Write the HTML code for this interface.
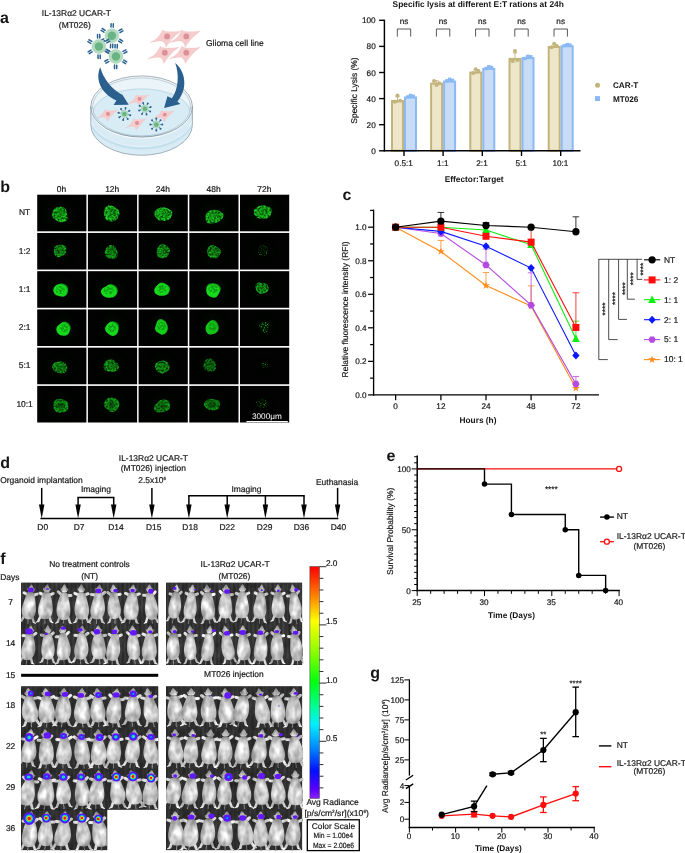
<!DOCTYPE html>
<html lang="en"><head><meta charset="utf-8"><title>Figure</title>
<style>html,body{margin:0;padding:0;background:#fff;overflow:hidden}svg{display:block}</style>
</head><body>
<svg width="685" height="853" viewBox="0 0 685 853" font-family="'Liberation Sans', Arial, sans-serif" text-rendering="geometricPrecision">
<defs><radialGradient id="gb" cx="45%" cy="55%" r="55%"><stop offset="0" stop-color="#19e020"/><stop offset="0.8" stop-color="#15d81c"/><stop offset="1" stop-color="#0b8a10"/></radialGradient><radialGradient id="gs" cx="50%" cy="50%" r="55%" fx="58%" fy="42%"><stop offset="0" stop-color="#0e8a13"/><stop offset="0.5" stop-color="#15b81b"/><stop offset="0.85" stop-color="#26ee2d"/><stop offset="1" stop-color="#18c01e"/></radialGradient><radialGradient id="gr" cx="50%" cy="50%" r="55%"><stop offset="0" stop-color="#0a6a0d"/><stop offset="0.45" stop-color="#0f9a14"/><stop offset="0.8" stop-color="#17d01d"/><stop offset="1" stop-color="#0a7a0e"/></radialGradient><filter id="fsp" x="-30%" y="-30%" width="160%" height="160%" color-interpolation-filters="sRGB"><feTurbulence type="fractalNoise" baseFrequency="0.5" numOctaves="3" seed="7" result="n"/><feColorMatrix in="n" type="matrix" values="0 0 0 0 0  0 0 0 0 0  0 0 0 0 0  3.6 0 0 0 -1.2" result="a"/><feComposite in="SourceGraphic" in2="a" operator="in" result="c"/><feGaussianBlur in="c" stdDeviation="0.4"/></filter><filter id="fsp2" x="-30%" y="-30%" width="160%" height="160%" color-interpolation-filters="sRGB"><feTurbulence type="fractalNoise" baseFrequency="0.9" numOctaves="1" seed="23" result="n"/><feColorMatrix in="n" type="matrix" values="0 0 0 0 0  0 0 0 0 0  0 0 0 0 0  0 3.4 0 0 -1.2" result="a"/><feComposite in="SourceGraphic" in2="a" operator="in" result="c"/><feGaussianBlur in="c" stdDeviation="0.5"/></filter><filter id="fdim" x="-30%" y="-30%" width="160%" height="160%" color-interpolation-filters="sRGB"><feTurbulence type="fractalNoise" baseFrequency="1.1" numOctaves="1" seed="11" result="n"/><feColorMatrix in="n" type="matrix" values="0 0 0 0 0  0 0 0 0 0  0 0 0 0 0  5 0 0 0 -2.7" result="a"/><feComposite in="SourceGraphic" in2="a" operator="in" result="c"/><feGaussianBlur in="c" stdDeviation="0.35"/></filter><radialGradient id="grb" cx="50%" cy="50%" r="55%"><stop offset="0" stop-color="#063a08"/><stop offset="0.5" stop-color="#0a6a0e"/><stop offset="0.85" stop-color="#0e8a13"/><stop offset="1" stop-color="#0a5a0d"/></radialGradient><filter id="fbl" x="-30%" y="-30%" width="160%" height="160%"><feGaussianBlur stdDeviation="0.6"/></filter><filter id="fhalo" x="-50%" y="-50%" width="200%" height="200%"><feGaussianBlur stdDeviation="3"/></filter><radialGradient id="mb" cx="50%" cy="58%" r="62%" fx="46%" fy="52%"><stop offset="0" stop-color="#f8f8f8"/><stop offset="0.45" stop-color="#dcdcdc"/><stop offset="0.8" stop-color="#b4b4b4"/><stop offset="1" stop-color="#808080"/></radialGradient><linearGradient id="mhd" x1="0" y1="0" x2="0" y2="1"><stop offset="0" stop-color="#8e8e8e"/><stop offset="0.5" stop-color="#c0c0c0"/><stop offset="1" stop-color="#dedede"/></linearGradient><symbol id="ms0" overflow="visible"><path d="M8.55,35 C8.7,37.5 9.4,39.5 9.0,41.5" fill="none" stroke="#a8a8a8" stroke-width="0.8"/><path d="M4.2,34 L2.4,38.6 M12.9,34 L14.7,38.6" fill="none" stroke="#cecece" stroke-width="2.4" stroke-linecap="round"/><path d="M2.4,38.8 L0.4,39.9 M14.7,38.8 L16.7,39.9" fill="none" stroke="#f0f0f0" stroke-width="1.2" stroke-linecap="round"/><path d="M8.55,1.0 C9.9,2.4 11.3,5 11.5,7.6 C11.6,9.6 5.5,9.6 5.6,7.6 C5.8,5 7.2,2.4 8.55,1.0 Z" fill="url(#mhd)"/><circle cx="5.9" cy="6.3" r="1.15" fill="#a6a6a6"/><circle cx="11.2" cy="6.3" r="1.15" fill="#a6a6a6"/><path d="M6.2,12.2 L2.0,10.4 M10.9,12.2 L15.1,10.4" fill="none" stroke="#e2e2e2" stroke-width="3.0" stroke-linecap="round"/><path d="M4.9,10.2 C4.0,13.5 2.6,18 1.6,24 C0.7,30 2.5,35.4 6,36.2 C7.5,36.5 9.6,36.5 11.1,36.2 C14.6,35.4 16.4,30 15.5,24 C14.5,18 13.1,13.5 12.2,10.2 C10.7,8.3 6.4,8.3 4.9,10.2 Z" fill="url(#mb)"/></symbol><symbol id="ms1" overflow="visible"><path d="M8.55,35 C8.7,37.5 9.4,39.5 9.0,41.5" fill="none" stroke="#a8a8a8" stroke-width="0.8"/><path d="M4.2,34 L2.4,38.6 M12.9,34 L14.7,38.6" fill="none" stroke="#cecece" stroke-width="2.4" stroke-linecap="round"/><path d="M2.4,38.8 L0.4,39.9 M14.7,38.8 L16.7,39.9" fill="none" stroke="#f0f0f0" stroke-width="1.2" stroke-linecap="round"/><path d="M8.55,1.0 C9.9,2.4 11.3,5 11.5,7.6 C11.6,9.6 5.5,9.6 5.6,7.6 C5.8,5 7.2,2.4 8.55,1.0 Z" fill="url(#mhd)"/><circle cx="5.9" cy="6.3" r="1.15" fill="#a6a6a6"/><circle cx="11.2" cy="6.3" r="1.15" fill="#a6a6a6"/><path d="M6.2,12.0 L2.6,8.6 M10.9,12.4 L15.3,11.6" fill="none" stroke="#e2e2e2" stroke-width="3.0" stroke-linecap="round"/><path d="M4.9,10.2 C3.6,13.5 2.0,17 1.4,23 C0.8,30 3.0,35.6 6.4,36.3 C8,36.6 9.8,36.5 11.3,36.1 C14.4,35.2 15.8,30 15.2,24.5 C14.6,19 13.6,14 12.2,10.2 C10.7,8.3 6.4,8.3 4.9,10.2 Z" fill="url(#mb)"/></symbol><symbol id="ms2" overflow="visible"><path d="M8.55,35 C8.7,37.5 9.4,39.5 9.0,41.5" fill="none" stroke="#a8a8a8" stroke-width="0.8"/><path d="M4.2,34 L2.4,38.6 M12.9,34 L14.7,38.6" fill="none" stroke="#cecece" stroke-width="2.4" stroke-linecap="round"/><path d="M2.4,38.8 L0.4,39.9 M14.7,38.8 L16.7,39.9" fill="none" stroke="#f0f0f0" stroke-width="1.2" stroke-linecap="round"/><path d="M8.55,1.0 C9.9,2.4 11.3,5 11.5,7.6 C11.6,9.6 5.5,9.6 5.6,7.6 C5.8,5 7.2,2.4 8.55,1.0 Z" fill="url(#mhd)"/><circle cx="5.9" cy="6.3" r="1.15" fill="#a6a6a6"/><circle cx="11.2" cy="6.3" r="1.15" fill="#a6a6a6"/><path d="M6.2,12.4 L1.8,12.0 M10.9,12.0 L14.6,8.8" fill="none" stroke="#e2e2e2" stroke-width="3.0" stroke-linecap="round"/><path d="M5.1,10.2 C4.4,13.5 3.4,18 2.4,23.5 C1.4,29.5 2.8,35.2 6.2,36.2 C7.7,36.5 9.6,36.5 11.0,36.2 C14.8,35.2 16.8,29.5 15.9,23.5 C15.0,18 13.0,13.5 12.0,10.2 C10.5,8.3 6.6,8.3 5.1,10.2 Z" fill="url(#mb)"/></symbol><pattern id="bgs" width="4.28" height="8" patternUnits="userSpaceOnUse"><rect width="4.28" height="8" fill="#323232"/><rect x="0.3" width="1.0" height="8" fill="#434343"/><rect x="2.5" width="0.5" height="8" fill="#2a2a2a"/></pattern><pattern id="bgd" width="4.3" height="8" patternUnits="userSpaceOnUse"><rect width="4.3" height="8" fill="#2e2e2e"/><rect x="0.6" width="0.7" height="8" fill="#3e3e3e"/></pattern><radialGradient id="h1"><stop offset="0" stop-color="#20d8ff"/><stop offset="0.2" stop-color="#1a78ff"/><stop offset="0.45" stop-color="#3a22ff"/><stop offset="0.7" stop-color="#6216ff"/><stop offset="1" stop-color="#6a18f8"/></radialGradient><radialGradient id="h2"><stop offset="0" stop-color="#b8f020"/><stop offset="0.14" stop-color="#20e060"/><stop offset="0.3" stop-color="#20c8ff"/><stop offset="0.5" stop-color="#1a40ff"/><stop offset="0.72" stop-color="#5a14ff"/><stop offset="1" stop-color="#6a18f8"/></radialGradient><radialGradient id="h3"><stop offset="0" stop-color="#ff1010"/><stop offset="0.24" stop-color="#ff2010"/><stop offset="0.34" stop-color="#ffd010"/><stop offset="0.44" stop-color="#30e040"/><stop offset="0.55" stop-color="#20c0ff"/><stop offset="0.7" stop-color="#1a30ff"/><stop offset="0.86" stop-color="#5e14ff"/><stop offset="1" stop-color="#6a18f8"/></radialGradient><linearGradient id="cbar" x1="0" y1="0" x2="0" y2="1"><stop offset="0" stop-color="#ff0000"/><stop offset="0.12" stop-color="#ff7a00"/><stop offset="0.235" stop-color="#ffff00"/><stop offset="0.38" stop-color="#80ff00"/><stop offset="0.5" stop-color="#00ff10"/><stop offset="0.6" stop-color="#00ff90"/><stop offset="0.68" stop-color="#00f0ff"/><stop offset="0.79" stop-color="#0080ff"/><stop offset="0.88" stop-color="#0010ff"/><stop offset="0.96" stop-color="#5a00ff"/><stop offset="1" stop-color="#8a20ff"/></linearGradient><filter id="fm" x="-2%" y="-2%" width="104%" height="104%" color-interpolation-filters="sRGB"><feGaussianBlur stdDeviation="0.45" result="b"/><feTurbulence type="fractalNoise" baseFrequency="0.16 0.1" numOctaves="2" seed="4" result="n"/><feColorMatrix in="n" type="matrix" values="1 0 0 0 0  1 0 0 0 0  1 0 0 0 0  0 0 0 0 1" result="g"/><feComposite in="b" in2="g" operator="arithmetic" k1="0.7" k2="0.6" k3="0" k4="0"/></filter></defs>
<rect width="685" height="853" fill="#fff"/>
<g id="panel-a">
<text x="0.0" y="23.2" font-size="16.0" font-weight="bold" fill="#151515">a</text>
<text x="76.4" y="15.8" font-size="8.45" text-anchor="middle" fill="#151515" stroke="#151515" stroke-width="0.18">IL-13Rα2 UCAR-T</text>
<text x="74.8" y="27.6" font-size="8.45" text-anchor="middle" fill="#151515" stroke="#151515" stroke-width="0.18">(MT026)</text>
<text x="206" y="45.8" font-size="8.5" fill="#151515" stroke="#151515" stroke-width="0.18">Glioma cell line</text>
<line x1="119.81" y1="39.26" x2="122.71" y2="41.03" stroke="#2b6291" stroke-width="1.5" stroke-linecap="round"/><line x1="118.66" y1="41.13" x2="121.56" y2="42.91" stroke="#2b6291" stroke-width="1.5" stroke-linecap="round"/><line x1="112.77" y1="44.33" x2="112.68" y2="47.72" stroke="#2b6291" stroke-width="1.5" stroke-linecap="round"/><line x1="110.57" y1="44.27" x2="110.48" y2="47.67" stroke="#2b6291" stroke-width="1.5" stroke-linecap="round"/><line x1="104.87" y1="40.77" x2="101.88" y2="42.39" stroke="#2b6291" stroke-width="1.5" stroke-linecap="round"/><line x1="103.82" y1="38.84" x2="100.83" y2="40.46" stroke="#2b6291" stroke-width="1.5" stroke-linecap="round"/><line x1="103.99" y1="32.14" x2="101.09" y2="30.37" stroke="#2b6291" stroke-width="1.5" stroke-linecap="round"/><line x1="105.14" y1="30.27" x2="102.24" y2="28.49" stroke="#2b6291" stroke-width="1.5" stroke-linecap="round"/><line x1="111.03" y1="27.07" x2="111.12" y2="23.68" stroke="#2b6291" stroke-width="1.5" stroke-linecap="round"/><line x1="113.23" y1="27.13" x2="113.32" y2="23.73" stroke="#2b6291" stroke-width="1.5" stroke-linecap="round"/><line x1="118.93" y1="30.63" x2="121.92" y2="29.01" stroke="#2b6291" stroke-width="1.5" stroke-linecap="round"/><line x1="119.98" y1="32.56" x2="122.97" y2="30.94" stroke="#2b6291" stroke-width="1.5" stroke-linecap="round"/><circle cx="111.9" cy="35.7" r="7.0" fill="#b4dbbf" stroke="#9fd0ae" stroke-width="0.4"/><circle cx="111.9" cy="35.7" r="4.2" fill="#69b385"/>
<line x1="106.97" y1="49.66" x2="109.96" y2="51.29" stroke="#2b6291" stroke-width="1.5" stroke-linecap="round"/><line x1="105.92" y1="51.59" x2="108.90" y2="53.22" stroke="#2b6291" stroke-width="1.5" stroke-linecap="round"/><line x1="100.20" y1="55.07" x2="100.28" y2="58.47" stroke="#2b6291" stroke-width="1.5" stroke-linecap="round"/><line x1="98.00" y1="55.12" x2="98.08" y2="58.52" stroke="#2b6291" stroke-width="1.5" stroke-linecap="round"/><line x1="92.13" y1="51.91" x2="89.22" y2="53.68" stroke="#2b6291" stroke-width="1.5" stroke-linecap="round"/><line x1="90.98" y1="50.04" x2="88.08" y2="51.80" stroke="#2b6291" stroke-width="1.5" stroke-linecap="round"/><line x1="90.83" y1="43.34" x2="87.84" y2="41.71" stroke="#2b6291" stroke-width="1.5" stroke-linecap="round"/><line x1="91.88" y1="41.41" x2="88.90" y2="39.78" stroke="#2b6291" stroke-width="1.5" stroke-linecap="round"/><line x1="97.60" y1="37.93" x2="97.52" y2="34.53" stroke="#2b6291" stroke-width="1.5" stroke-linecap="round"/><line x1="99.80" y1="37.88" x2="99.72" y2="34.48" stroke="#2b6291" stroke-width="1.5" stroke-linecap="round"/><line x1="105.67" y1="41.09" x2="108.58" y2="39.32" stroke="#2b6291" stroke-width="1.5" stroke-linecap="round"/><line x1="106.82" y1="42.96" x2="109.72" y2="41.20" stroke="#2b6291" stroke-width="1.5" stroke-linecap="round"/><circle cx="98.9" cy="46.5" r="7.0" fill="#b4dbbf" stroke="#9fd0ae" stroke-width="0.4"/><circle cx="98.9" cy="46.5" r="4.2" fill="#69b385"/>
<line x1="123.81" y1="60.06" x2="126.71" y2="61.83" stroke="#2b6291" stroke-width="1.5" stroke-linecap="round"/><line x1="122.66" y1="61.93" x2="125.56" y2="63.71" stroke="#2b6291" stroke-width="1.5" stroke-linecap="round"/><line x1="116.77" y1="65.13" x2="116.68" y2="68.52" stroke="#2b6291" stroke-width="1.5" stroke-linecap="round"/><line x1="114.57" y1="65.07" x2="114.48" y2="68.47" stroke="#2b6291" stroke-width="1.5" stroke-linecap="round"/><line x1="108.87" y1="61.57" x2="105.88" y2="63.19" stroke="#2b6291" stroke-width="1.5" stroke-linecap="round"/><line x1="107.82" y1="59.64" x2="104.83" y2="61.26" stroke="#2b6291" stroke-width="1.5" stroke-linecap="round"/><line x1="107.99" y1="52.94" x2="105.09" y2="51.17" stroke="#2b6291" stroke-width="1.5" stroke-linecap="round"/><line x1="109.14" y1="51.07" x2="106.24" y2="49.29" stroke="#2b6291" stroke-width="1.5" stroke-linecap="round"/><line x1="115.03" y1="47.87" x2="115.12" y2="44.48" stroke="#2b6291" stroke-width="1.5" stroke-linecap="round"/><line x1="117.23" y1="47.93" x2="117.32" y2="44.53" stroke="#2b6291" stroke-width="1.5" stroke-linecap="round"/><line x1="122.93" y1="51.43" x2="125.92" y2="49.81" stroke="#2b6291" stroke-width="1.5" stroke-linecap="round"/><line x1="123.98" y1="53.36" x2="126.97" y2="51.74" stroke="#2b6291" stroke-width="1.5" stroke-linecap="round"/><circle cx="115.9" cy="56.5" r="7.0" fill="#b4dbbf" stroke="#9fd0ae" stroke-width="0.4"/><circle cx="115.9" cy="56.5" r="4.2" fill="#69b385"/>
<g transform="translate(167.1,36.4) rotate(0) scale(1.0,1.0)"><path d="M-17,6 C-11,3.5 -7.5,0 -4.5,-6.5 C-3,-4.8 0,-4.6 2.5,-4.6 C6.5,-4.6 10,-4.6 14,-5.4 C10,-2.6 7,0.4 4.5,3.2 C2.8,5.2 0.8,7.6 -1,10.8 C-1.6,7.6 -3,5.4 -5.5,4.6 C-8.5,4.4 -12.5,5.2 -17,6 Z" fill="#f5cbcb" stroke="#edb9ba" stroke-width="0.3"/><circle cx="0" cy="0" r="2.9" fill="#dc9098"/></g>
<g transform="translate(186.3,36.4) rotate(0) scale(1.0,1.0)"><path d="M-17,6 C-11,3.5 -7.5,0 -4.5,-6.5 C-3,-4.8 0,-4.6 2.5,-4.6 C6.5,-4.6 10,-4.6 14,-5.4 C10,-2.6 7,0.4 4.5,3.2 C2.8,5.2 0.8,7.6 -1,10.8 C-1.6,7.6 -3,5.4 -5.5,4.6 C-8.5,4.4 -12.5,5.2 -17,6 Z" fill="#f5cbcb" stroke="#edb9ba" stroke-width="0.3"/><circle cx="0" cy="0" r="2.9" fill="#dc9098"/></g>
<g transform="translate(164.8,52.7) rotate(0) scale(1.0,1.0)"><path d="M-17,6 C-11,3.5 -7.5,0 -4.5,-6.5 C-3,-4.8 0,-4.6 2.5,-4.6 C6.5,-4.6 10,-4.6 14,-5.4 C10,-2.6 7,0.4 4.5,3.2 C2.8,5.2 0.8,7.6 -1,10.8 C-1.6,7.6 -3,5.4 -5.5,4.6 C-8.5,4.4 -12.5,5.2 -17,6 Z" fill="#f5cbcb" stroke="#edb9ba" stroke-width="0.3"/><circle cx="0" cy="0" r="2.9" fill="#dc9098"/></g>
<g transform="translate(186.3,52.7) rotate(0) scale(1.0,1.0)"><path d="M-17,6 C-11,3.5 -7.5,0 -4.5,-6.5 C-3,-4.8 0,-4.6 2.5,-4.6 C6.5,-4.6 10,-4.6 14,-5.4 C10,-2.6 7,0.4 4.5,3.2 C2.8,5.2 0.8,7.6 -1,10.8 C-1.6,7.6 -3,5.4 -5.5,4.6 C-8.5,4.4 -12.5,5.2 -17,6 Z" fill="#f5cbcb" stroke="#edb9ba" stroke-width="0.3"/><circle cx="0" cy="0" r="2.9" fill="#dc9098"/></g>
<g>
<path d="M90.8,106.5 L90.8,124.7 A50.8,30.6 0 0 0 192.39999999999998,124.7 L192.39999999999998,106.5 Z" fill="#d9ebf4" stroke="#82929e" stroke-width="0.7"/>
<path d="M93.1,126.5 A50.8,30.6 0 0 0 190.1,126.5" fill="none" stroke="#c2e0ed" stroke-width="3.2"/>
<path d="M91.6,121.5 A50.8,30.6 0 0 0 191.6,121.5" fill="none" stroke="#e4f2f8" stroke-width="1.2"/>
<ellipse cx="141.6" cy="106.5" rx="50.8" ry="30.6" fill="#eef5f9" stroke="#82929e" stroke-width="0.7"/>
<ellipse cx="141.6" cy="106.9" rx="49.0" ry="29.0" fill="#ebf4f8" stroke="#95a7b4" stroke-width="0.5"/>
<ellipse cx="141.6" cy="112.6" rx="48.4" ry="23.7" fill="#d8ecf5" stroke="#a9cfe0" stroke-width="0.7"/>
<path d="M92.0,108.5 A49.6,29.4 0 0 0 191.2,108.5" fill="none" stroke="#f3f9fc" stroke-width="1.5"/>
<path d="M92.6,106.9 A49.0,29.0 0 0 0 190.6,106.9" fill="none" stroke="#9db0bd" stroke-width="0.5"/>
<path d="M90.8,106.5 A50.8,30.6 0 0 0 192.39999999999998,106.5" fill="none" stroke="#82929e" stroke-width="0.7"/>
</g>
<g transform="translate(139.6,98.9) rotate(-3) scale(0.68,0.68)"><path d="M-17,6 C-11,3.5 -7.5,0 -4.5,-6.5 C-3,-4.8 0,-4.6 2.5,-4.6 C6.5,-4.6 10,-4.6 14,-5.4 C10,-2.6 7,0.4 4.5,3.2 C2.8,5.2 0.8,7.6 -1,10.8 C-1.6,7.6 -3,5.4 -5.5,4.6 C-8.5,4.4 -12.5,5.2 -17,6 Z" fill="#f5cbcb" stroke="#edb9ba" stroke-width="0.3"/><circle cx="0" cy="0" r="2.9" fill="#dc9098"/></g>
<g transform="translate(108.0,114.0) rotate(0) scale(0.68,0.68)"><path d="M-17,6 C-11,3.5 -7.5,0 -4.5,-6.5 C-3,-4.8 0,-4.6 2.5,-4.6 C6.5,-4.6 10,-4.6 14,-5.4 C10,-2.6 7,0.4 4.5,3.2 C2.8,5.2 0.8,7.6 -1,10.8 C-1.6,7.6 -3,5.4 -5.5,4.6 C-8.5,4.4 -12.5,5.2 -17,6 Z" fill="#f5cbcb" stroke="#edb9ba" stroke-width="0.3"/><circle cx="0" cy="0" r="2.9" fill="#dc9098"/></g>
<g transform="translate(137.0,123.0) rotate(-3) scale(0.68,0.68)"><path d="M-17,6 C-11,3.5 -7.5,0 -4.5,-6.5 C-3,-4.8 0,-4.6 2.5,-4.6 C6.5,-4.6 10,-4.6 14,-5.4 C10,-2.6 7,0.4 4.5,3.2 C2.8,5.2 0.8,7.6 -1,10.8 C-1.6,7.6 -3,5.4 -5.5,4.6 C-8.5,4.4 -12.5,5.2 -17,6 Z" fill="#f5cbcb" stroke="#edb9ba" stroke-width="0.3"/><circle cx="0" cy="0" r="2.9" fill="#dc9098"/></g>
<g transform="translate(164.7,114.6) rotate(0) scale(0.68,0.68)"><path d="M-17,6 C-11,3.5 -7.5,0 -4.5,-6.5 C-3,-4.8 0,-4.6 2.5,-4.6 C6.5,-4.6 10,-4.6 14,-5.4 C10,-2.6 7,0.4 4.5,3.2 C2.8,5.2 0.8,7.6 -1,10.8 C-1.6,7.6 -3,5.4 -5.5,4.6 C-8.5,4.4 -12.5,5.2 -17,6 Z" fill="#f5cbcb" stroke="#edb9ba" stroke-width="0.3"/><circle cx="0" cy="0" r="2.9" fill="#dc9098"/></g>
<line x1="128.22" y1="114.77" x2="129.89" y2="115.11" stroke="#2b6291" stroke-width="0.9"/><circle cx="130.28" cy="115.19" r="1.0" fill="#2b6291"/><line x1="126.55" y1="117.25" x2="127.49" y2="118.67" stroke="#2b6291" stroke-width="0.9"/><circle cx="127.72" cy="119.00" r="1.0" fill="#2b6291"/><line x1="123.63" y1="117.82" x2="123.29" y2="119.49" stroke="#2b6291" stroke-width="0.9"/><circle cx="123.21" cy="119.88" r="1.0" fill="#2b6291"/><line x1="121.15" y1="116.15" x2="119.73" y2="117.09" stroke="#2b6291" stroke-width="0.9"/><circle cx="119.40" cy="117.32" r="1.0" fill="#2b6291"/><line x1="120.58" y1="113.23" x2="118.91" y2="112.89" stroke="#2b6291" stroke-width="0.9"/><circle cx="118.52" cy="112.81" r="1.0" fill="#2b6291"/><line x1="122.25" y1="110.75" x2="121.31" y2="109.33" stroke="#2b6291" stroke-width="0.9"/><circle cx="121.08" cy="109.00" r="1.0" fill="#2b6291"/><line x1="125.17" y1="110.18" x2="125.51" y2="108.51" stroke="#2b6291" stroke-width="0.9"/><circle cx="125.59" cy="108.12" r="1.0" fill="#2b6291"/><line x1="127.65" y1="111.85" x2="129.07" y2="110.91" stroke="#2b6291" stroke-width="0.9"/><circle cx="129.40" cy="110.68" r="1.0" fill="#2b6291"/><circle cx="124.4" cy="114.0" r="3.6" fill="#b4dbbf" stroke="#9fd0ae" stroke-width="0.4"/><circle cx="124.4" cy="114.0" r="2.3" fill="#69b385"/>
<line x1="148.32" y1="110.57" x2="149.81" y2="111.38" stroke="#2b6291" stroke-width="0.9"/><circle cx="150.17" cy="111.58" r="1.0" fill="#2b6291"/><line x1="146.00" y1="112.44" x2="146.48" y2="114.07" stroke="#2b6291" stroke-width="0.9"/><circle cx="146.59" cy="114.46" r="1.0" fill="#2b6291"/><line x1="143.03" y1="112.12" x2="142.22" y2="113.61" stroke="#2b6291" stroke-width="0.9"/><circle cx="142.02" cy="113.97" r="1.0" fill="#2b6291"/><line x1="141.16" y1="109.80" x2="139.53" y2="110.28" stroke="#2b6291" stroke-width="0.9"/><circle cx="139.14" cy="110.39" r="1.0" fill="#2b6291"/><line x1="141.48" y1="106.83" x2="139.99" y2="106.02" stroke="#2b6291" stroke-width="0.9"/><circle cx="139.63" cy="105.82" r="1.0" fill="#2b6291"/><line x1="143.80" y1="104.96" x2="143.32" y2="103.33" stroke="#2b6291" stroke-width="0.9"/><circle cx="143.21" cy="102.94" r="1.0" fill="#2b6291"/><line x1="146.77" y1="105.28" x2="147.58" y2="103.79" stroke="#2b6291" stroke-width="0.9"/><circle cx="147.78" cy="103.43" r="1.0" fill="#2b6291"/><line x1="148.64" y1="107.60" x2="150.27" y2="107.12" stroke="#2b6291" stroke-width="0.9"/><circle cx="150.66" cy="107.01" r="1.0" fill="#2b6291"/><circle cx="144.9" cy="108.7" r="3.6" fill="#b4dbbf" stroke="#9fd0ae" stroke-width="0.4"/><circle cx="144.9" cy="108.7" r="2.3" fill="#69b385"/>
<line x1="160.20" y1="124.60" x2="161.90" y2="124.60" stroke="#2b6291" stroke-width="0.9"/><circle cx="162.30" cy="124.60" r="1.0" fill="#2b6291"/><line x1="159.06" y1="127.36" x2="160.26" y2="128.56" stroke="#2b6291" stroke-width="0.9"/><circle cx="160.54" cy="128.84" r="1.0" fill="#2b6291"/><line x1="156.30" y1="128.50" x2="156.30" y2="130.20" stroke="#2b6291" stroke-width="0.9"/><circle cx="156.30" cy="130.60" r="1.0" fill="#2b6291"/><line x1="153.54" y1="127.36" x2="152.34" y2="128.56" stroke="#2b6291" stroke-width="0.9"/><circle cx="152.06" cy="128.84" r="1.0" fill="#2b6291"/><line x1="152.40" y1="124.60" x2="150.70" y2="124.60" stroke="#2b6291" stroke-width="0.9"/><circle cx="150.30" cy="124.60" r="1.0" fill="#2b6291"/><line x1="153.54" y1="121.84" x2="152.34" y2="120.64" stroke="#2b6291" stroke-width="0.9"/><circle cx="152.06" cy="120.36" r="1.0" fill="#2b6291"/><line x1="156.30" y1="120.70" x2="156.30" y2="119.00" stroke="#2b6291" stroke-width="0.9"/><circle cx="156.30" cy="118.60" r="1.0" fill="#2b6291"/><line x1="159.06" y1="121.84" x2="160.26" y2="120.64" stroke="#2b6291" stroke-width="0.9"/><circle cx="160.54" cy="120.36" r="1.0" fill="#2b6291"/><circle cx="156.3" cy="124.6" r="3.6" fill="#b4dbbf" stroke="#9fd0ae" stroke-width="0.4"/><circle cx="156.3" cy="124.6" r="2.3" fill="#69b385"/>
<path d="M100.2,67.3 C95.3,78 99.6,93 116.4,100.4 L113.6,105 L128.7,104.8 L120.7,92.0 L122.4,95.0 C111.5,89 103.5,79 100.2,67.3 Z" fill="#2a5f8e"/>
<path d="M175.2,62.9 C184.8,70 189,88 177.4,101.4 L180.4,104.1 L164.1,107.9 L167.4,96.3 L171.9,98.2 C178.6,89 179.3,74 175.2,62.9 Z" fill="#2a5f8e"/>
<text x="478.2" y="7.0" font-size="8.4" font-weight="bold" text-anchor="middle" fill="#151515">Specific lysis at different E:T rations at 24h</text>
<line x1="384.40" y1="19.70" x2="384.40" y2="151.50" stroke="#000" stroke-width="1.45"/>
<line x1="379.10" y1="150.80" x2="384.40" y2="150.80" stroke="#000" stroke-width="1.4"/>
<text x="375.7" y="153.8" font-size="8.2" text-anchor="end" fill="#151515" stroke="#151515" stroke-width="0.18">0</text>
<line x1="379.10" y1="124.70" x2="384.40" y2="124.70" stroke="#000" stroke-width="1.4"/>
<text x="375.7" y="127.70000000000002" font-size="8.2" text-anchor="end" fill="#151515" stroke="#151515" stroke-width="0.18">20</text>
<line x1="379.10" y1="98.60" x2="384.40" y2="98.60" stroke="#000" stroke-width="1.4"/>
<text x="375.7" y="101.60000000000002" font-size="8.2" text-anchor="end" fill="#151515" stroke="#151515" stroke-width="0.18">40</text>
<line x1="379.10" y1="72.50" x2="384.40" y2="72.50" stroke="#000" stroke-width="1.4"/>
<text x="375.7" y="75.50000000000001" font-size="8.2" text-anchor="end" fill="#151515" stroke="#151515" stroke-width="0.18">60</text>
<line x1="379.10" y1="46.40" x2="384.40" y2="46.40" stroke="#000" stroke-width="1.4"/>
<text x="375.7" y="49.40000000000002" font-size="8.2" text-anchor="end" fill="#151515" stroke="#151515" stroke-width="0.18">80</text>
<line x1="379.10" y1="20.30" x2="384.40" y2="20.30" stroke="#000" stroke-width="1.4"/>
<text x="375.7" y="23.30000000000001" font-size="8.2" text-anchor="end" fill="#151515" stroke="#151515" stroke-width="0.18">100</text>
<text x="356.6" y="90.5" font-size="8.45" text-anchor="middle" transform="rotate(-90 356.6 90.5)" fill="#151515" stroke="#151515" stroke-width="0.18">Specific Lysis (%)</text>
<rect x="392.00" y="100.91" width="11.00" height="49.89" fill="#ede6c9" stroke="#c3b47c" stroke-width="2.0"/>
<rect x="405.00" y="97.51" width="11.00" height="53.29" fill="#c9dcf6" stroke="#8bb9f6" stroke-width="2.0"/>
<line x1="397.50" y1="96.77" x2="397.50" y2="103.04" stroke="#c3b47c" stroke-width="0.9"/>
<line x1="395.30" y1="96.77" x2="399.70" y2="96.77" stroke="#c3b47c" stroke-width="0.9"/>
<circle cx="394.90" cy="101.73" r="2.0" fill="#c3b47c"/>
<circle cx="397.50" cy="95.47" r="2.0" fill="#c3b47c"/>
<circle cx="400.10" cy="100.69" r="2.0" fill="#c3b47c"/>
<line x1="408.30" y1="95.73" x2="412.70" y2="95.73" stroke="#8bb9f6" stroke-width="0.9"/>
<rect x="406.00" y="95.33" width="3.4" height="3.4" fill="#8bb9f6"/>
<rect x="408.80" y="93.77" width="3.4" height="3.4" fill="#8bb9f6"/>
<rect x="411.60" y="94.55" width="3.4" height="3.4" fill="#8bb9f6"/>
<line x1="404.00" y1="150.80" x2="404.00" y2="156.00" stroke="#000" stroke-width="1.4"/>
<text x="403.7" y="166.0" font-size="8.2" text-anchor="middle" fill="#151515" stroke="#151515" stroke-width="0.18">0.5:1</text>
<path d="M397.30,36.6 V29 H410.70 V36.6" fill="none" stroke="#222" stroke-width="0.75"/>
<text x="404.0" y="23.5" font-size="8.2" text-anchor="middle" fill="#151515" stroke="#151515" stroke-width="0.18">ns</text>
<rect x="431.10" y="83.68" width="11.00" height="67.12" fill="#ede6c9" stroke="#c3b47c" stroke-width="2.0"/>
<rect x="444.10" y="81.59" width="11.00" height="69.21" fill="#c9dcf6" stroke="#8bb9f6" stroke-width="2.0"/>
<line x1="436.60" y1="80.72" x2="436.60" y2="84.64" stroke="#c3b47c" stroke-width="0.9"/>
<line x1="434.40" y1="80.72" x2="438.80" y2="80.72" stroke="#c3b47c" stroke-width="0.9"/>
<circle cx="434.00" cy="81.11" r="2.0" fill="#c3b47c"/>
<circle cx="436.60" cy="85.03" r="2.0" fill="#c3b47c"/>
<circle cx="439.20" cy="83.20" r="2.0" fill="#c3b47c"/>
<line x1="447.40" y1="79.81" x2="451.80" y2="79.81" stroke="#8bb9f6" stroke-width="0.9"/>
<rect x="445.10" y="79.15" width="3.4" height="3.4" fill="#8bb9f6"/>
<rect x="447.90" y="77.59" width="3.4" height="3.4" fill="#8bb9f6"/>
<rect x="450.70" y="78.63" width="3.4" height="3.4" fill="#8bb9f6"/>
<line x1="443.10" y1="150.80" x2="443.10" y2="156.00" stroke="#000" stroke-width="1.4"/>
<text x="442.8" y="166.0" font-size="8.2" text-anchor="middle" fill="#151515" stroke="#151515" stroke-width="0.18">1:1</text>
<path d="M436.40,36.6 V29 H449.80 V36.6" fill="none" stroke="#222" stroke-width="0.75"/>
<text x="443.1" y="23.5" font-size="8.2" text-anchor="middle" fill="#151515" stroke="#151515" stroke-width="0.18">ns</text>
<rect x="470.30" y="72.59" width="11.00" height="78.21" fill="#ede6c9" stroke="#c3b47c" stroke-width="2.0"/>
<rect x="483.30" y="68.93" width="11.00" height="81.87" fill="#c9dcf6" stroke="#8bb9f6" stroke-width="2.0"/>
<line x1="475.80" y1="69.76" x2="475.80" y2="73.41" stroke="#c3b47c" stroke-width="0.9"/>
<line x1="473.60" y1="69.76" x2="478.00" y2="69.76" stroke="#c3b47c" stroke-width="0.9"/>
<circle cx="473.20" cy="73.02" r="2.0" fill="#c3b47c"/>
<circle cx="475.80" cy="69.37" r="2.0" fill="#c3b47c"/>
<circle cx="478.40" cy="70.93" r="2.0" fill="#c3b47c"/>
<line x1="486.60" y1="67.02" x2="491.00" y2="67.02" stroke="#8bb9f6" stroke-width="0.9"/>
<rect x="484.30" y="66.89" width="3.4" height="3.4" fill="#8bb9f6"/>
<rect x="487.10" y="65.06" width="3.4" height="3.4" fill="#8bb9f6"/>
<rect x="489.90" y="65.84" width="3.4" height="3.4" fill="#8bb9f6"/>
<line x1="482.30" y1="150.80" x2="482.30" y2="156.00" stroke="#000" stroke-width="1.4"/>
<text x="482.0" y="166.0" font-size="8.2" text-anchor="middle" fill="#151515" stroke="#151515" stroke-width="0.18">2:1</text>
<path d="M475.60,36.6 V29 H489.00 V36.6" fill="none" stroke="#222" stroke-width="0.75"/>
<text x="482.3" y="23.5" font-size="8.2" text-anchor="middle" fill="#151515" stroke="#151515" stroke-width="0.18">ns</text>
<rect x="509.50" y="58.88" width="11.00" height="91.92" fill="#ede6c9" stroke="#c3b47c" stroke-width="2.0"/>
<rect x="522.50" y="58.10" width="11.00" height="92.70" fill="#c9dcf6" stroke="#8bb9f6" stroke-width="2.0"/>
<line x1="515.00" y1="52.93" x2="515.00" y2="62.84" stroke="#c3b47c" stroke-width="0.9"/>
<line x1="512.80" y1="52.93" x2="517.20" y2="52.93" stroke="#c3b47c" stroke-width="0.9"/>
<circle cx="512.40" cy="61.02" r="2.0" fill="#c3b47c"/>
<circle cx="515.00" cy="51.10" r="2.0" fill="#c3b47c"/>
<circle cx="517.60" cy="59.97" r="2.0" fill="#c3b47c"/>
<line x1="525.80" y1="56.06" x2="530.20" y2="56.06" stroke="#8bb9f6" stroke-width="0.9"/>
<rect x="523.50" y="56.71" width="3.4" height="3.4" fill="#8bb9f6"/>
<rect x="526.30" y="54.62" width="3.4" height="3.4" fill="#8bb9f6"/>
<rect x="529.10" y="55.14" width="3.4" height="3.4" fill="#8bb9f6"/>
<line x1="521.50" y1="150.80" x2="521.50" y2="156.00" stroke="#000" stroke-width="1.4"/>
<text x="521.2" y="166.0" font-size="8.2" text-anchor="middle" fill="#151515" stroke="#151515" stroke-width="0.18">5:1</text>
<path d="M514.80,36.6 V29 H528.20 V36.6" fill="none" stroke="#222" stroke-width="0.75"/>
<text x="521.5" y="23.5" font-size="8.2" text-anchor="middle" fill="#151515" stroke="#151515" stroke-width="0.18">ns</text>
<rect x="548.70" y="47.01" width="11.00" height="103.79" fill="#ede6c9" stroke="#c3b47c" stroke-width="2.0"/>
<rect x="561.70" y="46.23" width="11.00" height="104.57" fill="#c9dcf6" stroke="#8bb9f6" stroke-width="2.0"/>
<line x1="554.20" y1="44.31" x2="554.20" y2="47.71" stroke="#c3b47c" stroke-width="0.9"/>
<line x1="552.00" y1="44.31" x2="556.40" y2="44.31" stroke="#c3b47c" stroke-width="0.9"/>
<circle cx="551.60" cy="47.18" r="2.0" fill="#c3b47c"/>
<circle cx="554.20" cy="43.79" r="2.0" fill="#c3b47c"/>
<circle cx="556.80" cy="45.88" r="2.0" fill="#c3b47c"/>
<line x1="565.00" y1="44.70" x2="569.40" y2="44.70" stroke="#8bb9f6" stroke-width="0.9"/>
<rect x="562.70" y="43.92" width="3.4" height="3.4" fill="#8bb9f6"/>
<rect x="565.50" y="42.87" width="3.4" height="3.4" fill="#8bb9f6"/>
<rect x="568.30" y="43.40" width="3.4" height="3.4" fill="#8bb9f6"/>
<line x1="560.70" y1="150.80" x2="560.70" y2="156.00" stroke="#000" stroke-width="1.4"/>
<text x="560.4000000000001" y="166.0" font-size="8.2" text-anchor="middle" fill="#151515" stroke="#151515" stroke-width="0.18">10:1</text>
<path d="M554.00,36.6 V29 H567.40 V36.6" fill="none" stroke="#222" stroke-width="0.75"/>
<text x="560.7" y="23.5" font-size="8.2" text-anchor="middle" fill="#151515" stroke="#151515" stroke-width="0.18">ns</text>
<line x1="383.70" y1="150.80" x2="580.50" y2="150.80" stroke="#000" stroke-width="1.45"/>
<text x="474.2" y="182.4" font-size="8.3" font-weight="bold" text-anchor="middle" fill="#151515">Effector:Target</text>
<circle cx="597.5" cy="85.3" r="2.5" fill="#c3b47c"/>
<rect x="595" y="96.1" width="5" height="5" fill="#8bb9f6"/>
<text x="612.9" y="88.3" font-size="8.2" font-weight="bold" fill="#151515">CAR-T</text>
<text x="612.9" y="101.5" font-size="8.2" font-weight="bold" fill="#151515">MT026</text>
</g>
<g id="panel-b">
<text x="0.3" y="192.0" font-size="16.0" font-weight="bold" fill="#151515">b</text>
<text x="61.50000000000001" y="191.7" font-size="8.45" text-anchor="middle" fill="#151515" stroke="#151515" stroke-width="0.18">0h</text>
<text x="112.2" y="191.7" font-size="8.45" text-anchor="middle" fill="#151515" stroke="#151515" stroke-width="0.18">12h</text>
<text x="162.9" y="191.7" font-size="8.45" text-anchor="middle" fill="#151515" stroke="#151515" stroke-width="0.18">24h</text>
<text x="213.6" y="191.7" font-size="8.45" text-anchor="middle" fill="#151515" stroke="#151515" stroke-width="0.18">48h</text>
<text x="264.3" y="191.7" font-size="8.45" text-anchor="middle" fill="#151515" stroke="#151515" stroke-width="0.18">72h</text>
<text x="24.6" y="215.39999999999998" font-size="8.45" text-anchor="middle" fill="#151515" stroke="#151515" stroke-width="0.18">NT</text>
<text x="24.6" y="253.64" font-size="8.45" text-anchor="middle" fill="#151515" stroke="#151515" stroke-width="0.18">1:2</text>
<text x="24.6" y="291.88" font-size="8.45" text-anchor="middle" fill="#151515" stroke="#151515" stroke-width="0.18">1:1</text>
<text x="24.6" y="330.11999999999995" font-size="8.45" text-anchor="middle" fill="#151515" stroke="#151515" stroke-width="0.18">2:1</text>
<text x="24.6" y="368.35999999999996" font-size="8.45" text-anchor="middle" fill="#151515" stroke="#151515" stroke-width="0.18">5:1</text>
<text x="24.6" y="406.59999999999997" font-size="8.45" text-anchor="middle" fill="#151515" stroke="#151515" stroke-width="0.18">10:1</text>
<rect x="37.20" y="194.70" width="49.2" height="36.6" fill="#010201"/>
<ellipse cx="60.0" cy="214.5" rx="15.8" ry="13.3" fill="#0a2a0a" opacity="0.09" filter="url(#fhalo)"/>
<path d="M67.53,216.49 Q67.71,217.31 67.62,218.15 Q67.53,219.00 67.08,219.74 Q66.63,220.48 65.89,221.01 Q65.15,221.55 64.24,221.85 Q63.33,222.16 62.34,222.23 Q61.35,222.31 60.36,222.14 Q59.37,221.97 58.46,221.59 Q57.56,221.22 56.76,220.73 Q55.96,220.23 55.23,219.69 Q54.50,219.14 53.84,218.52 Q53.18,217.90 52.67,217.17 Q52.16,216.43 51.95,215.61 Q51.73,214.80 51.82,214.00 Q51.92,213.20 52.21,212.49 Q52.50,211.77 52.87,211.11 Q53.23,210.45 53.67,209.82 Q54.11,209.19 54.69,208.61 Q55.28,208.04 56.05,207.60 Q56.81,207.16 57.73,206.91 Q58.65,206.66 59.66,206.61 Q60.67,206.56 61.71,206.76 Q62.75,206.95 63.68,207.46 Q64.61,207.96 65.26,208.74 Q65.90,209.51 66.20,210.38 Q66.50,211.26 66.58,212.06 Q66.67,212.86 66.78,213.55 Q66.90,214.25 67.12,214.97 Q67.35,215.68 67.53,216.49Z" fill="#0a6a0e" opacity="0.62" filter="url(#fbl)"/>
<path d="M67.53,216.49 Q67.71,217.31 67.62,218.15 Q67.53,219.00 67.08,219.74 Q66.63,220.48 65.89,221.01 Q65.15,221.55 64.24,221.85 Q63.33,222.16 62.34,222.23 Q61.35,222.31 60.36,222.14 Q59.37,221.97 58.46,221.59 Q57.56,221.22 56.76,220.73 Q55.96,220.23 55.23,219.69 Q54.50,219.14 53.84,218.52 Q53.18,217.90 52.67,217.17 Q52.16,216.43 51.95,215.61 Q51.73,214.80 51.82,214.00 Q51.92,213.20 52.21,212.49 Q52.50,211.77 52.87,211.11 Q53.23,210.45 53.67,209.82 Q54.11,209.19 54.69,208.61 Q55.28,208.04 56.05,207.60 Q56.81,207.16 57.73,206.91 Q58.65,206.66 59.66,206.61 Q60.67,206.56 61.71,206.76 Q62.75,206.95 63.68,207.46 Q64.61,207.96 65.26,208.74 Q65.90,209.51 66.20,210.38 Q66.50,211.26 66.58,212.06 Q66.67,212.86 66.78,213.55 Q66.90,214.25 67.12,214.97 Q67.35,215.68 67.53,216.49Z" fill="url(#gs)" opacity="0.88" filter="url(#fsp)"/>
<ellipse cx="61.3" cy="214.9" rx="4.8" ry="3.7" fill="#22e828" opacity="0.43" filter="url(#fsp2)"/>
<rect x="87.90" y="194.70" width="49.2" height="36.6" fill="#010201"/>
<ellipse cx="111.3" cy="213.5" rx="14.0" ry="15.5" fill="#0a2a0a" opacity="0.09" filter="url(#fhalo)"/>
<path d="M119.46,213.91 Q119.36,214.92 119.00,215.85 Q118.63,216.78 118.10,217.59 Q117.57,218.39 116.93,219.06 Q116.28,219.73 115.54,220.23 Q114.80,220.72 113.99,221.01 Q113.19,221.30 112.36,221.39 Q111.54,221.48 110.72,221.43 Q109.91,221.38 109.11,221.19 Q108.31,221.01 107.56,220.63 Q106.81,220.26 106.19,219.65 Q105.58,219.05 105.16,218.27 Q104.75,217.49 104.51,216.63 Q104.27,215.78 104.12,214.90 Q103.97,214.03 103.89,213.10 Q103.81,212.18 103.88,211.19 Q103.95,210.21 104.29,209.25 Q104.63,208.29 105.26,207.51 Q105.88,206.73 106.71,206.23 Q107.53,205.74 108.43,205.54 Q109.33,205.34 110.19,205.41 Q111.06,205.47 111.84,205.72 Q112.63,205.97 113.32,206.32 Q114.01,206.68 114.67,207.06 Q115.32,207.45 115.99,207.88 Q116.65,208.31 117.32,208.87 Q117.99,209.43 118.52,210.21 Q119.06,210.98 119.31,211.94 Q119.55,212.90 119.46,213.91Z" fill="#0a6a0e" opacity="0.62" filter="url(#fbl)"/>
<path d="M119.46,213.91 Q119.36,214.92 119.00,215.85 Q118.63,216.78 118.10,217.59 Q117.57,218.39 116.93,219.06 Q116.28,219.73 115.54,220.23 Q114.80,220.72 113.99,221.01 Q113.19,221.30 112.36,221.39 Q111.54,221.48 110.72,221.43 Q109.91,221.38 109.11,221.19 Q108.31,221.01 107.56,220.63 Q106.81,220.26 106.19,219.65 Q105.58,219.05 105.16,218.27 Q104.75,217.49 104.51,216.63 Q104.27,215.78 104.12,214.90 Q103.97,214.03 103.89,213.10 Q103.81,212.18 103.88,211.19 Q103.95,210.21 104.29,209.25 Q104.63,208.29 105.26,207.51 Q105.88,206.73 106.71,206.23 Q107.53,205.74 108.43,205.54 Q109.33,205.34 110.19,205.41 Q111.06,205.47 111.84,205.72 Q112.63,205.97 113.32,206.32 Q114.01,206.68 114.67,207.06 Q115.32,207.45 115.99,207.88 Q116.65,208.31 117.32,208.87 Q117.99,209.43 118.52,210.21 Q119.06,210.98 119.31,211.94 Q119.55,212.90 119.46,213.91Z" fill="url(#gs)" opacity="0.88" filter="url(#fsp)"/>
<ellipse cx="110.6" cy="214.7" rx="4.3" ry="4.3" fill="#22e828" opacity="0.43" filter="url(#fsp2)"/>
<rect x="138.60" y="194.70" width="49.2" height="36.6" fill="#010201"/>
<ellipse cx="163.2" cy="214.1" rx="16.6" ry="13.0" fill="#0a2a0a" opacity="0.09" filter="url(#fhalo)"/>
<path d="M172.03,211.73 Q172.36,212.48 172.33,213.30 Q172.30,214.12 172.05,214.92 Q171.80,215.72 171.42,216.49 Q171.05,217.27 170.51,218.01 Q169.97,218.74 169.18,219.35 Q168.40,219.95 167.42,220.32 Q166.45,220.68 165.43,220.82 Q164.41,220.96 163.43,220.97 Q162.45,220.97 161.51,220.86 Q160.56,220.76 159.70,220.48 Q158.84,220.20 158.16,219.72 Q157.48,219.25 156.98,218.67 Q156.48,218.08 156.03,217.49 Q155.59,216.89 155.11,216.25 Q154.62,215.61 154.23,214.85 Q153.84,214.08 153.82,213.21 Q153.79,212.33 154.26,211.51 Q154.73,210.68 155.54,210.04 Q156.35,209.40 157.26,208.92 Q158.18,208.45 159.12,208.09 Q160.05,207.72 161.02,207.49 Q161.99,207.26 162.97,207.26 Q163.95,207.26 164.84,207.48 Q165.73,207.71 166.51,208.04 Q167.30,208.36 168.06,208.70 Q168.83,209.04 169.61,209.44 Q170.39,209.84 171.05,210.41 Q171.70,210.98 172.03,211.73Z" fill="#0a6a0e" opacity="0.62" filter="url(#fbl)"/>
<path d="M172.03,211.73 Q172.36,212.48 172.33,213.30 Q172.30,214.12 172.05,214.92 Q171.80,215.72 171.42,216.49 Q171.05,217.27 170.51,218.01 Q169.97,218.74 169.18,219.35 Q168.40,219.95 167.42,220.32 Q166.45,220.68 165.43,220.82 Q164.41,220.96 163.43,220.97 Q162.45,220.97 161.51,220.86 Q160.56,220.76 159.70,220.48 Q158.84,220.20 158.16,219.72 Q157.48,219.25 156.98,218.67 Q156.48,218.08 156.03,217.49 Q155.59,216.89 155.11,216.25 Q154.62,215.61 154.23,214.85 Q153.84,214.08 153.82,213.21 Q153.79,212.33 154.26,211.51 Q154.73,210.68 155.54,210.04 Q156.35,209.40 157.26,208.92 Q158.18,208.45 159.12,208.09 Q160.05,207.72 161.02,207.49 Q161.99,207.26 162.97,207.26 Q163.95,207.26 164.84,207.48 Q165.73,207.71 166.51,208.04 Q167.30,208.36 168.06,208.70 Q168.83,209.04 169.61,209.44 Q170.39,209.84 171.05,210.41 Q171.70,210.98 172.03,211.73Z" fill="url(#gs)" opacity="0.88" filter="url(#fsp)"/>
<ellipse cx="162.3" cy="213.2" rx="5.1" ry="3.6" fill="#22e828" opacity="0.43" filter="url(#fsp2)"/>
<rect x="189.30" y="194.70" width="49.2" height="36.6" fill="#010201"/>
<ellipse cx="213.9" cy="216.6" rx="16.2" ry="13.3" fill="#0a2a0a" opacity="0.09" filter="url(#fhalo)"/>
<path d="M222.86,213.31 Q223.42,214.05 223.50,214.96 Q223.58,215.86 223.22,216.75 Q222.87,217.64 222.29,218.41 Q221.71,219.18 221.07,219.84 Q220.42,220.50 219.70,221.06 Q218.98,221.62 218.15,222.02 Q217.32,222.41 216.45,222.62 Q215.57,222.83 214.71,222.96 Q213.84,223.09 212.94,223.24 Q212.03,223.40 211.01,223.51 Q209.99,223.61 208.96,223.45 Q207.94,223.28 207.16,222.73 Q206.39,222.18 206.03,221.36 Q205.67,220.55 205.60,219.70 Q205.53,218.84 205.52,218.04 Q205.51,217.24 205.52,216.44 Q205.53,215.63 205.73,214.80 Q205.92,213.97 206.44,213.21 Q206.96,212.45 207.74,211.87 Q208.51,211.28 209.40,210.87 Q210.28,210.46 211.20,210.19 Q212.11,209.91 213.04,209.79 Q213.96,209.67 214.86,209.75 Q215.76,209.82 216.59,210.06 Q217.41,210.29 218.21,210.59 Q219.00,210.89 219.83,211.23 Q220.67,211.57 221.49,212.07 Q222.30,212.57 222.86,213.31Z" fill="#0a6a0e" opacity="0.62" filter="url(#fbl)"/>
<path d="M222.86,213.31 Q223.42,214.05 223.50,214.96 Q223.58,215.86 223.22,216.75 Q222.87,217.64 222.29,218.41 Q221.71,219.18 221.07,219.84 Q220.42,220.50 219.70,221.06 Q218.98,221.62 218.15,222.02 Q217.32,222.41 216.45,222.62 Q215.57,222.83 214.71,222.96 Q213.84,223.09 212.94,223.24 Q212.03,223.40 211.01,223.51 Q209.99,223.61 208.96,223.45 Q207.94,223.28 207.16,222.73 Q206.39,222.18 206.03,221.36 Q205.67,220.55 205.60,219.70 Q205.53,218.84 205.52,218.04 Q205.51,217.24 205.52,216.44 Q205.53,215.63 205.73,214.80 Q205.92,213.97 206.44,213.21 Q206.96,212.45 207.74,211.87 Q208.51,211.28 209.40,210.87 Q210.28,210.46 211.20,210.19 Q212.11,209.91 213.04,209.79 Q213.96,209.67 214.86,209.75 Q215.76,209.82 216.59,210.06 Q217.41,210.29 218.21,210.59 Q219.00,210.89 219.83,211.23 Q220.67,211.57 221.49,212.07 Q222.30,212.57 222.86,213.31Z" fill="url(#gs)" opacity="0.88" filter="url(#fsp)"/>
<ellipse cx="214.5" cy="218.0" rx="5.0" ry="3.7" fill="#22e828" opacity="0.43" filter="url(#fsp2)"/>
<rect x="240.00" y="194.70" width="49.2" height="36.6" fill="#010201"/>
<ellipse cx="262.9" cy="212.1" rx="16.2" ry="13.3" fill="#0a2a0a" opacity="0.09" filter="url(#fhalo)"/>
<path d="M271.57,209.72 Q271.71,210.55 271.59,211.37 Q271.48,212.19 271.27,212.98 Q271.06,213.78 270.78,214.57 Q270.51,215.37 270.03,216.14 Q269.55,216.91 268.77,217.50 Q268.00,218.10 267.03,218.41 Q266.06,218.72 265.08,218.80 Q264.09,218.87 263.17,218.86 Q262.25,218.85 261.34,218.80 Q260.43,218.75 259.53,218.58 Q258.63,218.40 257.82,218.02 Q257.02,217.63 256.40,217.06 Q255.78,216.48 255.32,215.81 Q254.85,215.13 254.50,214.39 Q254.15,213.64 253.95,212.82 Q253.76,212.00 253.87,211.13 Q253.98,210.27 254.45,209.47 Q254.92,208.67 255.67,208.04 Q256.41,207.40 257.26,206.94 Q258.12,206.47 259.01,206.14 Q259.90,205.81 260.81,205.60 Q261.72,205.40 262.64,205.35 Q263.56,205.30 264.46,205.38 Q265.36,205.47 266.25,205.65 Q267.14,205.84 268.02,206.15 Q268.90,206.46 269.67,206.96 Q270.44,207.46 270.94,208.17 Q271.44,208.89 271.57,209.72Z" fill="#0a6a0e" opacity="0.62" filter="url(#fbl)"/>
<path d="M271.57,209.72 Q271.71,210.55 271.59,211.37 Q271.48,212.19 271.27,212.98 Q271.06,213.78 270.78,214.57 Q270.51,215.37 270.03,216.14 Q269.55,216.91 268.77,217.50 Q268.00,218.10 267.03,218.41 Q266.06,218.72 265.08,218.80 Q264.09,218.87 263.17,218.86 Q262.25,218.85 261.34,218.80 Q260.43,218.75 259.53,218.58 Q258.63,218.40 257.82,218.02 Q257.02,217.63 256.40,217.06 Q255.78,216.48 255.32,215.81 Q254.85,215.13 254.50,214.39 Q254.15,213.64 253.95,212.82 Q253.76,212.00 253.87,211.13 Q253.98,210.27 254.45,209.47 Q254.92,208.67 255.67,208.04 Q256.41,207.40 257.26,206.94 Q258.12,206.47 259.01,206.14 Q259.90,205.81 260.81,205.60 Q261.72,205.40 262.64,205.35 Q263.56,205.30 264.46,205.38 Q265.36,205.47 266.25,205.65 Q267.14,205.84 268.02,206.15 Q268.90,206.46 269.67,206.96 Q270.44,207.46 270.94,208.17 Q271.44,208.89 271.57,209.72Z" fill="url(#gs)" opacity="0.88" filter="url(#fsp)"/>
<ellipse cx="261.4" cy="212.6" rx="5.0" ry="3.7" fill="#22e828" opacity="0.43" filter="url(#fsp2)"/>
<rect x="37.20" y="232.94" width="49.2" height="36.6" fill="#010201"/>
<ellipse cx="60.0" cy="250.7" rx="12.1" ry="11.7" fill="#0a2a0a" opacity="0.07" filter="url(#fhalo)"/>
<path d="M66.12,252.19 Q65.87,252.84 65.52,253.42 Q65.17,253.99 64.72,254.48 Q64.26,254.97 63.72,255.35 Q63.18,255.74 62.58,256.03 Q61.98,256.33 61.33,256.57 Q60.68,256.81 59.96,256.97 Q59.24,257.14 58.45,257.13 Q57.66,257.12 56.92,256.83 Q56.17,256.55 55.60,255.99 Q55.04,255.42 54.73,254.71 Q54.42,254.00 54.28,253.29 Q54.14,252.57 54.04,251.90 Q53.94,251.23 53.86,250.56 Q53.77,249.88 53.80,249.17 Q53.83,248.45 54.09,247.78 Q54.35,247.10 54.85,246.58 Q55.36,246.05 56.01,245.73 Q56.66,245.41 57.34,245.24 Q58.01,245.06 58.68,244.96 Q59.34,244.85 60.03,244.79 Q60.71,244.72 61.43,244.75 Q62.16,244.77 62.89,244.97 Q63.63,245.16 64.30,245.57 Q64.96,245.98 65.46,246.58 Q65.96,247.18 66.24,247.90 Q66.51,248.62 66.57,249.37 Q66.62,250.12 66.49,250.83 Q66.37,251.54 66.12,252.19Z" fill="#0a6a0e" opacity="0.46" filter="url(#fbl)"/>
<path d="M66.12,252.19 Q65.87,252.84 65.52,253.42 Q65.17,253.99 64.72,254.48 Q64.26,254.97 63.72,255.35 Q63.18,255.74 62.58,256.03 Q61.98,256.33 61.33,256.57 Q60.68,256.81 59.96,256.97 Q59.24,257.14 58.45,257.13 Q57.66,257.12 56.92,256.83 Q56.17,256.55 55.60,255.99 Q55.04,255.42 54.73,254.71 Q54.42,254.00 54.28,253.29 Q54.14,252.57 54.04,251.90 Q53.94,251.23 53.86,250.56 Q53.77,249.88 53.80,249.17 Q53.83,248.45 54.09,247.78 Q54.35,247.10 54.85,246.58 Q55.36,246.05 56.01,245.73 Q56.66,245.41 57.34,245.24 Q58.01,245.06 58.68,244.96 Q59.34,244.85 60.03,244.79 Q60.71,244.72 61.43,244.75 Q62.16,244.77 62.89,244.97 Q63.63,245.16 64.30,245.57 Q64.96,245.98 65.46,246.58 Q65.96,247.18 66.24,247.90 Q66.51,248.62 66.57,249.37 Q66.62,250.12 66.49,250.83 Q66.37,251.54 66.12,252.19Z" fill="url(#gs)" opacity="0.68" filter="url(#fsp)"/>
<ellipse cx="61.4" cy="249.3" rx="3.7" ry="3.2" fill="#22e828" opacity="0.32" filter="url(#fsp2)"/>
<rect x="87.90" y="232.94" width="49.2" height="36.6" fill="#010201"/>
<ellipse cx="111.3" cy="252.3" rx="12.2" ry="12.6" fill="#0a2a0a" opacity="0.07" filter="url(#fhalo)"/>
<path d="M117.71,253.85 Q117.74,254.64 117.52,255.44 Q117.29,256.23 116.80,256.88 Q116.30,257.54 115.61,257.99 Q114.93,258.43 114.17,258.66 Q113.41,258.90 112.66,258.97 Q111.90,259.04 111.16,258.98 Q110.43,258.92 109.73,258.72 Q109.04,258.52 108.41,258.18 Q107.78,257.83 107.23,257.37 Q106.68,256.91 106.22,256.35 Q105.77,255.79 105.42,255.14 Q105.08,254.49 104.91,253.76 Q104.73,253.03 104.76,252.28 Q104.79,251.53 105.01,250.81 Q105.23,250.09 105.58,249.43 Q105.92,248.78 106.35,248.17 Q106.78,247.55 107.30,246.99 Q107.82,246.42 108.47,245.97 Q109.13,245.51 109.89,245.26 Q110.65,245.01 111.45,245.04 Q112.25,245.06 112.99,245.35 Q113.73,245.64 114.32,246.12 Q114.92,246.61 115.36,247.21 Q115.80,247.81 116.11,248.44 Q116.41,249.08 116.65,249.71 Q116.89,250.33 117.10,250.98 Q117.32,251.63 117.50,252.34 Q117.68,253.06 117.71,253.85Z" fill="#0a6a0e" opacity="0.46" filter="url(#fbl)"/>
<path d="M117.71,253.85 Q117.74,254.64 117.52,255.44 Q117.29,256.23 116.80,256.88 Q116.30,257.54 115.61,257.99 Q114.93,258.43 114.17,258.66 Q113.41,258.90 112.66,258.97 Q111.90,259.04 111.16,258.98 Q110.43,258.92 109.73,258.72 Q109.04,258.52 108.41,258.18 Q107.78,257.83 107.23,257.37 Q106.68,256.91 106.22,256.35 Q105.77,255.79 105.42,255.14 Q105.08,254.49 104.91,253.76 Q104.73,253.03 104.76,252.28 Q104.79,251.53 105.01,250.81 Q105.23,250.09 105.58,249.43 Q105.92,248.78 106.35,248.17 Q106.78,247.55 107.30,246.99 Q107.82,246.42 108.47,245.97 Q109.13,245.51 109.89,245.26 Q110.65,245.01 111.45,245.04 Q112.25,245.06 112.99,245.35 Q113.73,245.64 114.32,246.12 Q114.92,246.61 115.36,247.21 Q115.80,247.81 116.11,248.44 Q116.41,249.08 116.65,249.71 Q116.89,250.33 117.10,250.98 Q117.32,251.63 117.50,252.34 Q117.68,253.06 117.71,253.85Z" fill="url(#gs)" opacity="0.68" filter="url(#fsp)"/>
<ellipse cx="110.3" cy="253.7" rx="3.7" ry="3.5" fill="#22e828" opacity="0.32" filter="url(#fsp2)"/>
<rect x="138.60" y="232.94" width="49.2" height="36.6" fill="#010201"/>
<ellipse cx="163.0" cy="251.3" rx="12.2" ry="13.3" fill="#0a2a0a" opacity="0.07" filter="url(#fhalo)"/>
<path d="M169.12,248.20 Q169.62,248.89 169.82,249.72 Q170.01,250.56 169.86,251.38 Q169.70,252.20 169.37,252.91 Q169.03,253.61 168.67,254.23 Q168.32,254.86 167.95,255.46 Q167.58,256.06 167.10,256.60 Q166.63,257.14 166.01,257.52 Q165.40,257.89 164.70,258.08 Q164.00,258.26 163.26,258.32 Q162.52,258.38 161.75,258.32 Q160.97,258.27 160.19,258.02 Q159.41,257.77 158.73,257.25 Q158.05,256.73 157.60,255.99 Q157.14,255.25 156.92,254.42 Q156.69,253.60 156.64,252.79 Q156.58,251.98 156.64,251.22 Q156.71,250.45 156.90,249.75 Q157.09,249.04 157.39,248.40 Q157.70,247.76 158.08,247.16 Q158.45,246.57 158.89,245.98 Q159.33,245.39 159.89,244.84 Q160.45,244.30 161.18,243.98 Q161.91,243.66 162.71,243.72 Q163.51,243.77 164.24,244.15 Q164.97,244.53 165.59,245.02 Q166.21,245.52 166.81,245.99 Q167.40,246.47 168.01,246.99 Q168.63,247.51 169.12,248.20Z" fill="#0a6a0e" opacity="0.46" filter="url(#fbl)"/>
<path d="M169.12,248.20 Q169.62,248.89 169.82,249.72 Q170.01,250.56 169.86,251.38 Q169.70,252.20 169.37,252.91 Q169.03,253.61 168.67,254.23 Q168.32,254.86 167.95,255.46 Q167.58,256.06 167.10,256.60 Q166.63,257.14 166.01,257.52 Q165.40,257.89 164.70,258.08 Q164.00,258.26 163.26,258.32 Q162.52,258.38 161.75,258.32 Q160.97,258.27 160.19,258.02 Q159.41,257.77 158.73,257.25 Q158.05,256.73 157.60,255.99 Q157.14,255.25 156.92,254.42 Q156.69,253.60 156.64,252.79 Q156.58,251.98 156.64,251.22 Q156.71,250.45 156.90,249.75 Q157.09,249.04 157.39,248.40 Q157.70,247.76 158.08,247.16 Q158.45,246.57 158.89,245.98 Q159.33,245.39 159.89,244.84 Q160.45,244.30 161.18,243.98 Q161.91,243.66 162.71,243.72 Q163.51,243.77 164.24,244.15 Q164.97,244.53 165.59,245.02 Q166.21,245.52 166.81,245.99 Q167.40,246.47 168.01,246.99 Q168.63,247.51 169.12,248.20Z" fill="url(#gs)" opacity="0.68" filter="url(#fsp)"/>
<ellipse cx="161.8" cy="252.0" rx="3.7" ry="3.7" fill="#22e828" opacity="0.32" filter="url(#fsp2)"/>
<rect x="189.30" y="232.94" width="49.2" height="36.6" fill="#010201"/>
<ellipse cx="213.7" cy="251.9" rx="12.2" ry="12.6" fill="#0a2a0a" opacity="0.07" filter="url(#fhalo)"/>
<path d="M220.16,249.37 Q220.67,250.03 220.82,250.85 Q220.96,251.67 220.74,252.47 Q220.53,253.27 220.14,253.96 Q219.76,254.65 219.37,255.28 Q218.97,255.91 218.53,256.51 Q218.08,257.11 217.49,257.58 Q216.90,258.04 216.18,258.24 Q215.45,258.45 214.72,258.41 Q213.98,258.38 213.29,258.26 Q212.59,258.14 211.90,257.99 Q211.20,257.85 210.50,257.59 Q209.80,257.34 209.20,256.87 Q208.59,256.40 208.19,255.73 Q207.80,255.07 207.59,254.33 Q207.39,253.59 207.30,252.85 Q207.22,252.10 207.21,251.35 Q207.20,250.59 207.34,249.84 Q207.48,249.08 207.82,248.38 Q208.16,247.69 208.67,247.11 Q209.18,246.53 209.81,246.09 Q210.44,245.64 211.16,245.37 Q211.88,245.09 212.64,245.06 Q213.40,245.03 214.12,245.28 Q214.83,245.52 215.43,245.93 Q216.03,246.34 216.57,246.74 Q217.11,247.14 217.72,247.48 Q218.32,247.83 218.98,248.27 Q219.65,248.71 220.16,249.37Z" fill="#0a6a0e" opacity="0.46" filter="url(#fbl)"/>
<path d="M220.16,249.37 Q220.67,250.03 220.82,250.85 Q220.96,251.67 220.74,252.47 Q220.53,253.27 220.14,253.96 Q219.76,254.65 219.37,255.28 Q218.97,255.91 218.53,256.51 Q218.08,257.11 217.49,257.58 Q216.90,258.04 216.18,258.24 Q215.45,258.45 214.72,258.41 Q213.98,258.38 213.29,258.26 Q212.59,258.14 211.90,257.99 Q211.20,257.85 210.50,257.59 Q209.80,257.34 209.20,256.87 Q208.59,256.40 208.19,255.73 Q207.80,255.07 207.59,254.33 Q207.39,253.59 207.30,252.85 Q207.22,252.10 207.21,251.35 Q207.20,250.59 207.34,249.84 Q207.48,249.08 207.82,248.38 Q208.16,247.69 208.67,247.11 Q209.18,246.53 209.81,246.09 Q210.44,245.64 211.16,245.37 Q211.88,245.09 212.64,245.06 Q213.40,245.03 214.12,245.28 Q214.83,245.52 215.43,245.93 Q216.03,246.34 216.57,246.74 Q217.11,247.14 217.72,247.48 Q218.32,247.83 218.98,248.27 Q219.65,248.71 220.16,249.37Z" fill="url(#gs)" opacity="0.68" filter="url(#fsp)"/>
<ellipse cx="213.2" cy="253.2" rx="3.7" ry="3.5" fill="#22e828" opacity="0.32" filter="url(#fsp2)"/>
<rect x="240.00" y="232.94" width="49.2" height="36.6" fill="#010201"/>
<ellipse cx="262.9" cy="250.7" rx="9.9" ry="9.9" fill="#0a2a0a" opacity="0.03" filter="url(#fhalo)"/>
<path d="M268.05,250.09 Q267.88,250.70 267.62,251.21 Q267.36,251.72 267.20,252.21 Q267.05,252.70 266.99,253.31 Q266.93,253.91 266.73,254.58 Q266.53,255.25 266.04,255.73 Q265.56,256.22 264.89,256.35 Q264.22,256.48 263.56,256.34 Q262.90,256.20 262.32,256.01 Q261.73,255.81 261.17,255.63 Q260.62,255.44 260.08,255.17 Q259.55,254.90 259.15,254.46 Q258.75,254.01 258.54,253.46 Q258.33,252.90 258.23,252.34 Q258.14,251.79 258.05,251.24 Q257.96,250.70 257.89,250.12 Q257.82,249.54 257.90,248.94 Q257.98,248.33 258.28,247.79 Q258.57,247.25 259.02,246.83 Q259.47,246.40 260.00,246.08 Q260.52,245.76 261.10,245.54 Q261.67,245.31 262.29,245.24 Q262.90,245.18 263.50,245.31 Q264.10,245.44 264.64,245.71 Q265.17,245.98 265.67,246.29 Q266.17,246.60 266.66,246.95 Q267.16,247.30 267.55,247.79 Q267.95,248.27 268.08,248.88 Q268.21,249.49 268.05,250.09Z" fill="#0a4a0c" opacity="0.11" filter="url(#fbl)"/>
<path d="M268.05,250.09 Q267.88,250.70 267.62,251.21 Q267.36,251.72 267.20,252.21 Q267.05,252.70 266.99,253.31 Q266.93,253.91 266.73,254.58 Q266.53,255.25 266.04,255.73 Q265.56,256.22 264.89,256.35 Q264.22,256.48 263.56,256.34 Q262.90,256.20 262.32,256.01 Q261.73,255.81 261.17,255.63 Q260.62,255.44 260.08,255.17 Q259.55,254.90 259.15,254.46 Q258.75,254.01 258.54,253.46 Q258.33,252.90 258.23,252.34 Q258.14,251.79 258.05,251.24 Q257.96,250.70 257.89,250.12 Q257.82,249.54 257.90,248.94 Q257.98,248.33 258.28,247.79 Q258.57,247.25 259.02,246.83 Q259.47,246.40 260.00,246.08 Q260.52,245.76 261.10,245.54 Q261.67,245.31 262.29,245.24 Q262.90,245.18 263.50,245.31 Q264.10,245.44 264.64,245.71 Q265.17,245.98 265.67,246.29 Q266.17,246.60 266.66,246.95 Q267.16,247.30 267.55,247.79 Q267.95,248.27 268.08,248.88 Q268.21,249.49 268.05,250.09Z" fill="#16c81c" opacity="0.62" filter="url(#fdim)"/>
<rect x="37.20" y="271.18" width="49.2" height="36.6" fill="#010201"/>
<ellipse cx="61.0" cy="290.1" rx="13.3" ry="13.0" fill="#0a2a0a" opacity="0.12" filter="url(#fhalo)"/>
<path d="M68.09,289.31 Q68.10,290.10 68.01,290.87 Q67.91,291.64 67.75,292.41 Q67.58,293.18 67.26,293.95 Q66.94,294.71 66.37,295.33 Q65.80,295.96 65.02,296.30 Q64.24,296.64 63.39,296.67 Q62.55,296.71 61.77,296.57 Q61.00,296.44 60.29,296.29 Q59.58,296.14 58.87,296.00 Q58.15,295.85 57.41,295.62 Q56.67,295.38 55.97,294.96 Q55.28,294.54 54.73,293.92 Q54.18,293.30 53.83,292.53 Q53.47,291.77 53.35,290.94 Q53.22,290.10 53.36,289.27 Q53.49,288.43 53.88,287.69 Q54.27,286.95 54.84,286.36 Q55.42,285.77 56.08,285.34 Q56.74,284.90 57.42,284.57 Q58.10,284.24 58.80,283.98 Q59.51,283.73 60.25,283.58 Q61.00,283.44 61.78,283.44 Q62.56,283.45 63.33,283.64 Q64.11,283.82 64.84,284.18 Q65.56,284.53 66.18,285.06 Q66.81,285.60 67.24,286.28 Q67.68,286.97 67.88,287.75 Q68.08,288.53 68.09,289.31Z" fill="url(#gb)" opacity="1" filter="url(#fbl)"/>
<ellipse cx="60.2" cy="290.0" rx="4.6" ry="4.0" fill="#0a6a0e" opacity="0.55" filter="url(#fsp)"/>
<rect x="87.90" y="271.18" width="49.2" height="36.6" fill="#010201"/>
<ellipse cx="109.7" cy="291.2" rx="14.8" ry="13.0" fill="#0a2a0a" opacity="0.12" filter="url(#fhalo)"/>
<path d="M117.52,289.01 Q117.77,289.78 117.77,290.58 Q117.77,291.39 117.56,292.17 Q117.36,292.96 117.00,293.70 Q116.65,294.44 116.13,295.11 Q115.61,295.78 114.91,296.30 Q114.21,296.82 113.38,297.13 Q112.56,297.45 111.70,297.57 Q110.84,297.68 110.01,297.69 Q109.18,297.70 108.36,297.64 Q107.54,297.57 106.72,297.39 Q105.90,297.22 105.13,296.88 Q104.36,296.54 103.67,296.05 Q102.98,295.55 102.40,294.91 Q101.82,294.28 101.41,293.51 Q101.00,292.73 100.91,291.86 Q100.83,290.99 101.17,290.16 Q101.52,289.32 102.21,288.68 Q102.91,288.03 103.69,287.59 Q104.48,287.15 105.16,286.78 Q105.85,286.40 106.47,285.94 Q107.09,285.49 107.81,285.01 Q108.53,284.54 109.40,284.26 Q110.28,283.99 111.19,284.04 Q112.11,284.10 112.93,284.44 Q113.75,284.78 114.44,285.28 Q115.13,285.77 115.73,286.34 Q116.33,286.91 116.80,287.58 Q117.27,288.24 117.52,289.01Z" fill="url(#gb)" opacity="1" filter="url(#fbl)"/>
<ellipse cx="109.0" cy="290.3" rx="5.1" ry="4.0" fill="#0a6a0e" opacity="0.55" filter="url(#fsp)"/>
<rect x="138.60" y="271.18" width="49.2" height="36.6" fill="#010201"/>
<ellipse cx="162.2" cy="289.5" rx="13.7" ry="13.0" fill="#0a2a0a" opacity="0.12" filter="url(#fhalo)"/>
<path d="M169.95,290.02 Q169.80,290.84 169.47,291.59 Q169.14,292.33 168.69,292.99 Q168.24,293.65 167.65,294.19 Q167.06,294.72 166.34,295.07 Q165.63,295.42 164.86,295.56 Q164.09,295.71 163.34,295.73 Q162.59,295.75 161.85,295.73 Q161.10,295.71 160.32,295.66 Q159.54,295.60 158.71,295.43 Q157.88,295.25 157.07,294.86 Q156.26,294.47 155.61,293.83 Q154.97,293.20 154.60,292.38 Q154.23,291.56 154.22,290.69 Q154.21,289.81 154.51,289.00 Q154.82,288.20 155.30,287.54 Q155.78,286.88 156.29,286.33 Q156.79,285.78 157.26,285.23 Q157.73,284.69 158.25,284.13 Q158.77,283.58 159.45,283.13 Q160.12,282.69 160.94,282.52 Q161.76,282.36 162.58,282.51 Q163.41,282.66 164.15,283.00 Q164.89,283.33 165.57,283.72 Q166.26,284.10 166.96,284.52 Q167.65,284.94 168.30,285.50 Q168.95,286.05 169.40,286.79 Q169.84,287.52 169.97,288.36 Q170.10,289.20 169.95,290.02Z" fill="url(#gb)" opacity="1" filter="url(#fbl)"/>
<ellipse cx="162.2" cy="289.1" rx="4.7" ry="4.0" fill="#0a6a0e" opacity="0.55" filter="url(#fsp)"/>
<rect x="189.30" y="271.18" width="49.2" height="36.6" fill="#010201"/>
<ellipse cx="213.2" cy="290.1" rx="14.0" ry="13.0" fill="#0a2a0a" opacity="0.12" filter="url(#fhalo)"/>
<path d="M220.41,290.58 Q220.09,291.32 219.70,291.94 Q219.31,292.56 218.99,293.17 Q218.66,293.78 218.34,294.47 Q218.03,295.16 217.53,295.85 Q217.04,296.53 216.29,297.00 Q215.53,297.48 214.63,297.60 Q213.72,297.72 212.82,297.54 Q211.92,297.36 211.10,297.02 Q210.28,296.69 209.54,296.26 Q208.80,295.83 208.17,295.27 Q207.54,294.71 207.12,294.02 Q206.70,293.32 206.51,292.57 Q206.33,291.81 206.29,291.07 Q206.26,290.33 206.25,289.60 Q206.25,288.87 206.31,288.11 Q206.36,287.35 206.60,286.58 Q206.84,285.81 207.36,285.16 Q207.87,284.51 208.62,284.09 Q209.37,283.67 210.21,283.49 Q211.05,283.30 211.89,283.27 Q212.73,283.24 213.56,283.32 Q214.38,283.39 215.20,283.57 Q216.02,283.74 216.81,284.05 Q217.61,284.36 218.35,284.83 Q219.09,285.30 219.67,285.96 Q220.25,286.61 220.55,287.40 Q220.84,288.20 220.79,289.02 Q220.74,289.85 220.41,290.58Z" fill="url(#gb)" opacity="1" filter="url(#fbl)"/>
<ellipse cx="213.2" cy="289.0" rx="4.8" ry="4.0" fill="#0a6a0e" opacity="0.55" filter="url(#fsp)"/>
<rect x="240.00" y="271.18" width="49.2" height="36.6" fill="#010201"/>
<ellipse cx="261.9" cy="288.1" rx="12.1" ry="10.8" fill="#0a2a0a" opacity="0.07" filter="url(#fhalo)"/>
<path d="M268.51,289.78 Q268.38,290.46 268.01,291.04 Q267.64,291.62 267.05,292.01 Q266.46,292.40 265.81,292.62 Q265.15,292.84 264.54,293.01 Q263.92,293.19 263.31,293.40 Q262.70,293.60 262.01,293.75 Q261.32,293.90 260.58,293.84 Q259.83,293.78 259.15,293.45 Q258.47,293.12 257.94,292.61 Q257.42,292.10 257.03,291.52 Q256.64,290.93 256.35,290.33 Q256.06,289.72 255.86,289.09 Q255.65,288.46 255.55,287.80 Q255.44,287.14 255.48,286.46 Q255.51,285.77 255.72,285.10 Q255.93,284.43 256.37,283.87 Q256.81,283.30 257.48,282.97 Q258.15,282.64 258.92,282.60 Q259.70,282.56 260.42,282.72 Q261.14,282.87 261.77,283.02 Q262.39,283.17 263.02,283.22 Q263.66,283.28 264.37,283.35 Q265.09,283.42 265.82,283.69 Q266.55,283.96 267.11,284.47 Q267.67,284.99 267.98,285.66 Q268.30,286.32 268.44,287.02 Q268.58,287.71 268.61,288.41 Q268.64,289.10 268.51,289.78Z" fill="#0a6a0e" opacity="0.48" filter="url(#fbl)"/>
<path d="M268.51,289.78 Q268.38,290.46 268.01,291.04 Q267.64,291.62 267.05,292.01 Q266.46,292.40 265.81,292.62 Q265.15,292.84 264.54,293.01 Q263.92,293.19 263.31,293.40 Q262.70,293.60 262.01,293.75 Q261.32,293.90 260.58,293.84 Q259.83,293.78 259.15,293.45 Q258.47,293.12 257.94,292.61 Q257.42,292.10 257.03,291.52 Q256.64,290.93 256.35,290.33 Q256.06,289.72 255.86,289.09 Q255.65,288.46 255.55,287.80 Q255.44,287.14 255.48,286.46 Q255.51,285.77 255.72,285.10 Q255.93,284.43 256.37,283.87 Q256.81,283.30 257.48,282.97 Q258.15,282.64 258.92,282.60 Q259.70,282.56 260.42,282.72 Q261.14,282.87 261.77,283.02 Q262.39,283.17 263.02,283.22 Q263.66,283.28 264.37,283.35 Q265.09,283.42 265.82,283.69 Q266.55,283.96 267.11,284.47 Q267.67,284.99 267.98,285.66 Q268.30,286.32 268.44,287.02 Q268.58,287.71 268.61,288.41 Q268.64,289.10 268.51,289.78Z" fill="url(#gs)" opacity="0.70" filter="url(#fsp)"/>
<ellipse cx="262.4" cy="288.9" rx="3.7" ry="3.0" fill="#22e828" opacity="0.33" filter="url(#fsp2)"/>
<rect x="37.20" y="309.42" width="49.2" height="36.6" fill="#010201"/>
<ellipse cx="63.7" cy="328.9" rx="13.1" ry="13.0" fill="#0a2a0a" opacity="0.12" filter="url(#fhalo)"/>
<path d="M70.10,330.44 Q69.83,331.13 69.55,331.80 Q69.27,332.48 68.91,333.14 Q68.54,333.81 68.00,334.38 Q67.45,334.94 66.73,335.27 Q66.00,335.61 65.22,335.70 Q64.43,335.79 63.65,335.74 Q62.87,335.69 62.10,335.55 Q61.33,335.41 60.57,335.15 Q59.81,334.88 59.12,334.43 Q58.44,333.98 57.90,333.35 Q57.36,332.71 57.00,331.97 Q56.64,331.22 56.46,330.41 Q56.29,329.60 56.35,328.78 Q56.41,327.96 56.75,327.23 Q57.09,326.49 57.63,325.93 Q58.18,325.36 58.77,324.93 Q59.36,324.50 59.90,324.08 Q60.45,323.66 61.00,323.17 Q61.56,322.68 62.26,322.25 Q62.95,321.81 63.78,321.63 Q64.61,321.46 65.45,321.63 Q66.28,321.81 67.01,322.24 Q67.75,322.68 68.36,323.24 Q68.98,323.80 69.49,324.46 Q69.99,325.11 70.31,325.87 Q70.62,326.63 70.67,327.43 Q70.72,328.24 70.55,329.00 Q70.37,329.76 70.10,330.44Z" fill="url(#gb)" opacity="1" filter="url(#fbl)"/>
<ellipse cx="64.0" cy="328.2" rx="4.5" ry="4.0" fill="#0a6a0e" opacity="0.55" filter="url(#fsp)"/>
<rect x="87.90" y="309.42" width="49.2" height="36.6" fill="#010201"/>
<ellipse cx="112.4" cy="328.5" rx="12.1" ry="14.0" fill="#0a2a0a" opacity="0.12" filter="url(#fhalo)"/>
<path d="M118.83,328.78 Q118.74,329.62 118.56,330.45 Q118.38,331.27 118.06,332.07 Q117.73,332.86 117.23,333.54 Q116.73,334.22 116.09,334.72 Q115.45,335.22 114.74,335.52 Q114.02,335.82 113.28,335.89 Q112.54,335.96 111.84,335.79 Q111.14,335.63 110.53,335.27 Q109.92,334.92 109.39,334.50 Q108.85,334.08 108.30,333.66 Q107.75,333.24 107.15,332.76 Q106.55,332.28 106.03,331.60 Q105.50,330.91 105.26,330.02 Q105.02,329.13 105.18,328.19 Q105.34,327.25 105.78,326.45 Q106.23,325.64 106.77,324.99 Q107.31,324.34 107.85,323.77 Q108.39,323.20 108.97,322.70 Q109.54,322.20 110.20,321.86 Q110.86,321.52 111.56,321.41 Q112.26,321.30 112.95,321.36 Q113.65,321.43 114.33,321.59 Q115.00,321.75 115.68,322.01 Q116.36,322.27 116.99,322.73 Q117.61,323.18 118.05,323.87 Q118.49,324.56 118.69,325.40 Q118.89,326.23 118.90,327.09 Q118.92,327.94 118.83,328.78Z" fill="url(#gb)" opacity="1" filter="url(#fbl)"/>
<ellipse cx="112.1" cy="328.0" rx="4.2" ry="4.3" fill="#0a6a0e" opacity="0.55" filter="url(#fsp)"/>
<rect x="138.60" y="309.42" width="49.2" height="36.6" fill="#010201"/>
<ellipse cx="161.6" cy="327.0" rx="12.1" ry="14.0" fill="#0a2a0a" opacity="0.11" filter="url(#fhalo)"/>
<path d="M167.95,327.30 Q168.05,328.14 167.96,329.02 Q167.86,329.90 167.52,330.73 Q167.18,331.56 166.64,332.26 Q166.11,332.95 165.44,333.47 Q164.77,333.99 164.03,334.29 Q163.28,334.59 162.51,334.63 Q161.75,334.66 161.04,334.43 Q160.33,334.20 159.72,333.83 Q159.11,333.47 158.53,333.09 Q157.96,332.72 157.36,332.33 Q156.77,331.93 156.22,331.38 Q155.67,330.83 155.36,330.06 Q155.04,329.29 155.07,328.42 Q155.09,327.56 155.33,326.75 Q155.58,325.94 155.84,325.19 Q156.10,324.45 156.32,323.65 Q156.53,322.86 156.85,322.00 Q157.17,321.15 157.73,320.42 Q158.29,319.70 159.05,319.33 Q159.82,318.96 160.63,318.98 Q161.45,319.00 162.18,319.26 Q162.92,319.52 163.56,319.88 Q164.20,320.25 164.77,320.69 Q165.33,321.14 165.79,321.70 Q166.24,322.26 166.58,322.91 Q166.92,323.56 167.18,324.26 Q167.44,324.96 167.64,325.71 Q167.85,326.47 167.95,327.30Z" fill="url(#gb)" opacity="0.95" filter="url(#fbl)"/>
<ellipse cx="161.6" cy="326.3" rx="4.2" ry="4.3" fill="#0a6a0e" opacity="0.55" filter="url(#fsp)"/>
<rect x="189.30" y="309.42" width="49.2" height="36.6" fill="#010201"/>
<ellipse cx="212.2" cy="327.5" rx="11.7" ry="14.0" fill="#0a2a0a" opacity="0.11" filter="url(#fhalo)"/>
<path d="M218.84,327.78 Q218.84,328.67 218.59,329.54 Q218.34,330.41 217.86,331.13 Q217.38,331.85 216.75,332.35 Q216.13,332.85 215.47,333.16 Q214.81,333.47 214.18,333.69 Q213.55,333.90 212.92,334.11 Q212.29,334.32 211.62,334.47 Q210.94,334.63 210.23,334.61 Q209.51,334.60 208.83,334.31 Q208.14,334.03 207.57,333.49 Q207.01,332.95 206.58,332.24 Q206.16,331.53 205.89,330.71 Q205.62,329.90 205.54,329.01 Q205.45,328.13 205.60,327.25 Q205.75,326.36 206.12,325.58 Q206.49,324.80 206.99,324.17 Q207.49,323.55 208.02,323.03 Q208.54,322.51 209.06,322.01 Q209.59,321.52 210.16,321.04 Q210.74,320.57 211.42,320.23 Q212.10,319.90 212.83,319.84 Q213.56,319.78 214.25,320.03 Q214.94,320.28 215.52,320.76 Q216.09,321.24 216.56,321.83 Q217.03,322.43 217.42,323.09 Q217.82,323.75 218.13,324.49 Q218.45,325.22 218.65,326.05 Q218.84,326.88 218.84,327.78Z" fill="url(#gb)" opacity="0.9" filter="url(#fbl)"/>
<ellipse cx="212.7" cy="326.8" rx="4.0" ry="4.3" fill="#0a6a0e" opacity="0.55" filter="url(#fsp)"/>
<rect x="240.00" y="309.42" width="49.2" height="36.6" fill="#010201"/>
<ellipse cx="264.3" cy="327.1" rx="10.1" ry="9.7" fill="#0a2a0a" opacity="0.05" filter="url(#fhalo)"/>
<path d="M269.00,327.41 Q268.99,327.93 268.98,328.48 Q268.97,329.02 268.85,329.61 Q268.74,330.20 268.46,330.77 Q268.18,331.34 267.71,331.82 Q267.25,332.30 266.64,332.62 Q266.03,332.93 265.34,333.01 Q264.65,333.09 263.98,332.90 Q263.31,332.72 262.77,332.32 Q262.22,331.92 261.83,331.44 Q261.44,330.96 261.14,330.50 Q260.84,330.04 260.55,329.63 Q260.26,329.21 259.95,328.77 Q259.65,328.34 259.40,327.83 Q259.15,327.32 259.03,326.73 Q258.90,326.15 258.95,325.53 Q259.00,324.92 259.25,324.33 Q259.49,323.74 259.93,323.27 Q260.36,322.79 260.94,322.49 Q261.51,322.19 262.14,322.07 Q262.77,321.95 263.39,321.94 Q264.00,321.94 264.60,321.97 Q265.20,322.01 265.81,322.10 Q266.42,322.19 267.00,322.43 Q267.58,322.67 268.03,323.10 Q268.49,323.54 268.72,324.11 Q268.95,324.67 268.99,325.26 Q269.04,325.84 269.02,326.37 Q269.00,326.90 269.00,327.41Z" fill="#0a4a0c" opacity="0.20" filter="url(#fbl)"/>
<path d="M269.00,327.41 Q268.99,327.93 268.98,328.48 Q268.97,329.02 268.85,329.61 Q268.74,330.20 268.46,330.77 Q268.18,331.34 267.71,331.82 Q267.25,332.30 266.64,332.62 Q266.03,332.93 265.34,333.01 Q264.65,333.09 263.98,332.90 Q263.31,332.72 262.77,332.32 Q262.22,331.92 261.83,331.44 Q261.44,330.96 261.14,330.50 Q260.84,330.04 260.55,329.63 Q260.26,329.21 259.95,328.77 Q259.65,328.34 259.40,327.83 Q259.15,327.32 259.03,326.73 Q258.90,326.15 258.95,325.53 Q259.00,324.92 259.25,324.33 Q259.49,323.74 259.93,323.27 Q260.36,322.79 260.94,322.49 Q261.51,322.19 262.14,322.07 Q262.77,321.95 263.39,321.94 Q264.00,321.94 264.60,321.97 Q265.20,322.01 265.81,322.10 Q266.42,322.19 267.00,322.43 Q267.58,322.67 268.03,323.10 Q268.49,323.54 268.72,324.11 Q268.95,324.67 268.99,325.26 Q269.04,325.84 269.02,326.37 Q269.00,326.90 269.00,327.41Z" fill="#16c81c" opacity="0.80" filter="url(#fdim)"/>
<rect x="37.20" y="347.66" width="49.2" height="36.6" fill="#010201"/>
<ellipse cx="60.0" cy="367.3" rx="14.0" ry="11.3" fill="#0a2a0a" opacity="0.07" filter="url(#fhalo)"/>
<path d="M67.07,369.85 Q66.86,370.50 66.48,371.07 Q66.09,371.64 65.55,372.08 Q65.00,372.52 64.34,372.82 Q63.67,373.13 62.93,373.27 Q62.18,373.42 61.40,373.40 Q60.62,373.38 59.84,373.23 Q59.06,373.07 58.31,372.81 Q57.55,372.55 56.80,372.21 Q56.05,371.87 55.31,371.43 Q54.57,370.99 53.91,370.40 Q53.25,369.81 52.80,369.08 Q52.36,368.34 52.22,367.56 Q52.08,366.78 52.23,366.05 Q52.39,365.32 52.74,364.70 Q53.09,364.08 53.56,363.57 Q54.04,363.06 54.61,362.67 Q55.19,362.28 55.85,362.02 Q56.51,361.77 57.22,361.63 Q57.93,361.50 58.67,361.45 Q59.40,361.40 60.18,361.42 Q60.95,361.43 61.79,361.56 Q62.62,361.69 63.45,362.01 Q64.28,362.34 64.99,362.88 Q65.70,363.43 66.19,364.13 Q66.67,364.82 66.94,365.57 Q67.20,366.31 67.30,367.05 Q67.39,367.78 67.34,368.49 Q67.28,369.19 67.07,369.85Z" fill="#0a6a0e" opacity="0.44" filter="url(#fbl)"/>
<path d="M67.07,369.85 Q66.86,370.50 66.48,371.07 Q66.09,371.64 65.55,372.08 Q65.00,372.52 64.34,372.82 Q63.67,373.13 62.93,373.27 Q62.18,373.42 61.40,373.40 Q60.62,373.38 59.84,373.23 Q59.06,373.07 58.31,372.81 Q57.55,372.55 56.80,372.21 Q56.05,371.87 55.31,371.43 Q54.57,370.99 53.91,370.40 Q53.25,369.81 52.80,369.08 Q52.36,368.34 52.22,367.56 Q52.08,366.78 52.23,366.05 Q52.39,365.32 52.74,364.70 Q53.09,364.08 53.56,363.57 Q54.04,363.06 54.61,362.67 Q55.19,362.28 55.85,362.02 Q56.51,361.77 57.22,361.63 Q57.93,361.50 58.67,361.45 Q59.40,361.40 60.18,361.42 Q60.95,361.43 61.79,361.56 Q62.62,361.69 63.45,362.01 Q64.28,362.34 64.99,362.88 Q65.70,363.43 66.19,364.13 Q66.67,364.82 66.94,365.57 Q67.20,366.31 67.30,367.05 Q67.39,367.78 67.34,368.49 Q67.28,369.19 67.07,369.85Z" fill="url(#gs)" opacity="0.65" filter="url(#fsp)"/>
<ellipse cx="59.5" cy="366.3" rx="4.3" ry="3.1" fill="#22e828" opacity="0.30" filter="url(#fsp2)"/>
<rect x="87.90" y="347.66" width="49.2" height="36.6" fill="#010201"/>
<ellipse cx="111.1" cy="365.9" rx="13.7" ry="12.1" fill="#0a2a0a" opacity="0.07" filter="url(#fhalo)"/>
<path d="M118.47,368.46 Q118.02,369.13 117.47,369.65 Q116.91,370.18 116.33,370.62 Q115.75,371.06 115.09,371.38 Q114.43,371.70 113.70,371.82 Q112.96,371.94 112.22,371.89 Q111.48,371.84 110.76,371.74 Q110.04,371.64 109.26,371.57 Q108.49,371.50 107.62,371.33 Q106.76,371.17 105.93,370.74 Q105.10,370.31 104.55,369.61 Q103.99,368.90 103.80,368.07 Q103.60,367.24 103.67,366.44 Q103.73,365.64 103.90,364.92 Q104.07,364.20 104.32,363.52 Q104.57,362.85 104.95,362.26 Q105.34,361.66 105.89,361.19 Q106.43,360.72 107.08,360.37 Q107.72,360.02 108.43,359.77 Q109.13,359.52 109.91,359.41 Q110.68,359.29 111.48,359.40 Q112.28,359.51 113.02,359.86 Q113.76,360.20 114.39,360.67 Q115.02,361.14 115.63,361.63 Q116.23,362.12 116.88,362.66 Q117.52,363.19 118.09,363.87 Q118.66,364.55 118.93,365.37 Q119.21,366.18 119.06,366.99 Q118.92,367.79 118.47,368.46Z" fill="#0a6a0e" opacity="0.44" filter="url(#fbl)"/>
<path d="M118.47,368.46 Q118.02,369.13 117.47,369.65 Q116.91,370.18 116.33,370.62 Q115.75,371.06 115.09,371.38 Q114.43,371.70 113.70,371.82 Q112.96,371.94 112.22,371.89 Q111.48,371.84 110.76,371.74 Q110.04,371.64 109.26,371.57 Q108.49,371.50 107.62,371.33 Q106.76,371.17 105.93,370.74 Q105.10,370.31 104.55,369.61 Q103.99,368.90 103.80,368.07 Q103.60,367.24 103.67,366.44 Q103.73,365.64 103.90,364.92 Q104.07,364.20 104.32,363.52 Q104.57,362.85 104.95,362.26 Q105.34,361.66 105.89,361.19 Q106.43,360.72 107.08,360.37 Q107.72,360.02 108.43,359.77 Q109.13,359.52 109.91,359.41 Q110.68,359.29 111.48,359.40 Q112.28,359.51 113.02,359.86 Q113.76,360.20 114.39,360.67 Q115.02,361.14 115.63,361.63 Q116.23,362.12 116.88,362.66 Q117.52,363.19 118.09,363.87 Q118.66,364.55 118.93,365.37 Q119.21,366.18 119.06,366.99 Q118.92,367.79 118.47,368.46Z" fill="url(#gs)" opacity="0.65" filter="url(#fsp)"/>
<ellipse cx="109.6" cy="365.6" rx="4.2" ry="3.4" fill="#22e828" opacity="0.30" filter="url(#fsp2)"/>
<rect x="138.60" y="347.66" width="49.2" height="36.6" fill="#010201"/>
<ellipse cx="162.3" cy="366.9" rx="13.3" ry="12.1" fill="#0a2a0a" opacity="0.07" filter="url(#fhalo)"/>
<path d="M169.14,369.26 Q168.79,369.93 168.27,370.44 Q167.75,370.96 167.15,371.34 Q166.56,371.72 165.96,372.05 Q165.35,372.37 164.72,372.69 Q164.09,373.01 163.37,373.26 Q162.65,373.51 161.83,373.56 Q161.01,373.61 160.21,373.36 Q159.41,373.10 158.73,372.61 Q158.06,372.11 157.53,371.50 Q157.00,370.89 156.56,370.25 Q156.12,369.60 155.73,368.92 Q155.35,368.23 155.11,367.47 Q154.88,366.71 154.91,365.94 Q154.94,365.16 155.27,364.47 Q155.61,363.78 156.14,363.25 Q156.68,362.72 157.30,362.33 Q157.92,361.94 158.55,361.63 Q159.19,361.32 159.85,361.08 Q160.52,360.84 161.24,360.70 Q161.97,360.56 162.74,360.57 Q163.51,360.57 164.30,360.75 Q165.08,360.93 165.83,361.30 Q166.57,361.66 167.21,362.19 Q167.86,362.71 168.35,363.37 Q168.85,364.03 169.17,364.78 Q169.49,365.53 169.60,366.31 Q169.71,367.09 169.60,367.84 Q169.48,368.60 169.14,369.26Z" fill="#0a6a0e" opacity="0.44" filter="url(#fbl)"/>
<path d="M169.14,369.26 Q168.79,369.93 168.27,370.44 Q167.75,370.96 167.15,371.34 Q166.56,371.72 165.96,372.05 Q165.35,372.37 164.72,372.69 Q164.09,373.01 163.37,373.26 Q162.65,373.51 161.83,373.56 Q161.01,373.61 160.21,373.36 Q159.41,373.10 158.73,372.61 Q158.06,372.11 157.53,371.50 Q157.00,370.89 156.56,370.25 Q156.12,369.60 155.73,368.92 Q155.35,368.23 155.11,367.47 Q154.88,366.71 154.91,365.94 Q154.94,365.16 155.27,364.47 Q155.61,363.78 156.14,363.25 Q156.68,362.72 157.30,362.33 Q157.92,361.94 158.55,361.63 Q159.19,361.32 159.85,361.08 Q160.52,360.84 161.24,360.70 Q161.97,360.56 162.74,360.57 Q163.51,360.57 164.30,360.75 Q165.08,360.93 165.83,361.30 Q166.57,361.66 167.21,362.19 Q167.86,362.71 168.35,363.37 Q168.85,364.03 169.17,364.78 Q169.49,365.53 169.60,366.31 Q169.71,367.09 169.60,367.84 Q169.48,368.60 169.14,369.26Z" fill="url(#gs)" opacity="0.65" filter="url(#fsp)"/>
<ellipse cx="162.4" cy="366.4" rx="4.1" ry="3.4" fill="#22e828" opacity="0.30" filter="url(#fsp2)"/>
<rect x="189.30" y="347.66" width="49.2" height="36.6" fill="#010201"/>
<ellipse cx="209.8" cy="365.3" rx="13.3" ry="11.0" fill="#0a2a0a" opacity="0.05" filter="url(#fhalo)"/>
<path d="M216.02,368.18 Q215.91,368.83 215.60,369.42 Q215.29,370.02 214.77,370.47 Q214.25,370.93 213.57,371.18 Q212.88,371.43 212.12,371.50 Q211.37,371.56 210.60,371.50 Q209.83,371.44 209.05,371.31 Q208.27,371.19 207.47,370.96 Q206.66,370.73 205.90,370.31 Q205.13,369.90 204.55,369.26 Q203.96,368.63 203.68,367.88 Q203.40,367.13 203.39,366.40 Q203.38,365.67 203.50,365.03 Q203.62,364.39 203.76,363.81 Q203.90,363.23 204.07,362.66 Q204.23,362.08 204.49,361.53 Q204.75,360.97 205.17,360.47 Q205.58,359.97 206.15,359.56 Q206.71,359.16 207.42,358.89 Q208.13,358.62 208.95,358.53 Q209.76,358.45 210.63,358.62 Q211.49,358.79 212.27,359.23 Q213.05,359.67 213.64,360.30 Q214.24,360.93 214.63,361.63 Q215.02,362.32 215.26,362.99 Q215.51,363.67 215.68,364.31 Q215.84,364.95 215.96,365.58 Q216.07,366.22 216.10,366.87 Q216.13,367.52 216.02,368.18Z" fill="#0a6a0e" opacity="0.30" filter="url(#fbl)"/>
<path d="M216.02,368.18 Q215.91,368.83 215.60,369.42 Q215.29,370.02 214.77,370.47 Q214.25,370.93 213.57,371.18 Q212.88,371.43 212.12,371.50 Q211.37,371.56 210.60,371.50 Q209.83,371.44 209.05,371.31 Q208.27,371.19 207.47,370.96 Q206.66,370.73 205.90,370.31 Q205.13,369.90 204.55,369.26 Q203.96,368.63 203.68,367.88 Q203.40,367.13 203.39,366.40 Q203.38,365.67 203.50,365.03 Q203.62,364.39 203.76,363.81 Q203.90,363.23 204.07,362.66 Q204.23,362.08 204.49,361.53 Q204.75,360.97 205.17,360.47 Q205.58,359.97 206.15,359.56 Q206.71,359.16 207.42,358.89 Q208.13,358.62 208.95,358.53 Q209.76,358.45 210.63,358.62 Q211.49,358.79 212.27,359.23 Q213.05,359.67 213.64,360.30 Q214.24,360.93 214.63,361.63 Q215.02,362.32 215.26,362.99 Q215.51,363.67 215.68,364.31 Q215.84,364.95 215.96,365.58 Q216.07,366.22 216.10,366.87 Q216.13,367.52 216.02,368.18Z" fill="url(#gs)" opacity="0.48" filter="url(#fsp)"/>
<ellipse cx="210.1" cy="365.5" rx="4.1" ry="3.0" fill="#22e828" opacity="0.21" filter="url(#fsp2)"/>
<rect x="240.00" y="347.66" width="49.2" height="36.6" fill="#010201"/>
<ellipse cx="264.3" cy="365.3" rx="5.8" ry="5.8" fill="#0a2a0a" opacity="0.03" filter="url(#fhalo)"/>
<path d="M267.68,364.92 Q267.74,365.30 267.70,365.68 Q267.66,366.07 267.53,366.43 Q267.40,366.79 267.17,367.10 Q266.93,367.40 266.60,367.58 Q266.26,367.76 265.90,367.82 Q265.54,367.88 265.21,367.88 Q264.89,367.88 264.59,367.91 Q264.30,367.94 263.99,367.99 Q263.67,368.05 263.33,368.04 Q262.99,368.03 262.67,367.89 Q262.35,367.75 262.10,367.50 Q261.85,367.25 261.67,366.96 Q261.48,366.66 261.32,366.34 Q261.16,366.02 261.05,365.66 Q260.94,365.30 260.94,364.92 Q260.94,364.53 261.08,364.18 Q261.22,363.82 261.48,363.54 Q261.74,363.26 262.04,363.05 Q262.34,362.85 262.66,362.71 Q262.99,362.57 263.32,362.50 Q263.65,362.44 263.97,362.46 Q264.30,362.49 264.60,362.57 Q264.90,362.66 265.19,362.77 Q265.47,362.87 265.77,362.97 Q266.08,363.07 266.40,363.22 Q266.72,363.37 267.00,363.62 Q267.28,363.87 267.45,364.20 Q267.63,364.54 267.68,364.92Z" fill="#0a4a0c" opacity="0.14" filter="url(#fbl)"/>
<path d="M267.68,364.92 Q267.74,365.30 267.70,365.68 Q267.66,366.07 267.53,366.43 Q267.40,366.79 267.17,367.10 Q266.93,367.40 266.60,367.58 Q266.26,367.76 265.90,367.82 Q265.54,367.88 265.21,367.88 Q264.89,367.88 264.59,367.91 Q264.30,367.94 263.99,367.99 Q263.67,368.05 263.33,368.04 Q262.99,368.03 262.67,367.89 Q262.35,367.75 262.10,367.50 Q261.85,367.25 261.67,366.96 Q261.48,366.66 261.32,366.34 Q261.16,366.02 261.05,365.66 Q260.94,365.30 260.94,364.92 Q260.94,364.53 261.08,364.18 Q261.22,363.82 261.48,363.54 Q261.74,363.26 262.04,363.05 Q262.34,362.85 262.66,362.71 Q262.99,362.57 263.32,362.50 Q263.65,362.44 263.97,362.46 Q264.30,362.49 264.60,362.57 Q264.90,362.66 265.19,362.77 Q265.47,362.87 265.77,362.97 Q266.08,363.07 266.40,363.22 Q266.72,363.37 267.00,363.62 Q267.28,363.87 267.45,364.20 Q267.63,364.54 267.68,364.92Z" fill="#16c81c" opacity="0.68" filter="url(#fdim)"/>
<rect x="37.20" y="385.90" width="49.2" height="36.6" fill="#010201"/>
<ellipse cx="60.7" cy="405.8" rx="14.8" ry="13.0" fill="#0a2a0a" opacity="0.07" filter="url(#fhalo)"/>
<path d="M67.98,403.75 Q68.14,404.49 68.24,405.23 Q68.33,405.98 68.37,406.77 Q68.40,407.57 68.22,408.39 Q68.03,409.22 67.51,409.94 Q66.98,410.67 66.19,411.16 Q65.40,411.65 64.51,411.92 Q63.62,412.19 62.75,412.34 Q61.88,412.49 61.01,412.58 Q60.15,412.68 59.26,412.66 Q58.38,412.65 57.52,412.43 Q56.66,412.20 55.94,411.74 Q55.22,411.28 54.72,410.63 Q54.23,409.99 53.96,409.27 Q53.68,408.54 53.58,407.81 Q53.48,407.07 53.46,406.35 Q53.45,405.63 53.47,404.89 Q53.49,404.15 53.59,403.34 Q53.70,402.54 54.03,401.71 Q54.35,400.88 55.00,400.19 Q55.65,399.50 56.56,399.13 Q57.48,398.75 58.46,398.73 Q59.45,398.71 60.34,398.88 Q61.24,399.06 62.04,399.26 Q62.85,399.46 63.64,399.67 Q64.44,399.88 65.20,400.21 Q65.96,400.54 66.55,401.08 Q67.15,401.63 67.49,402.32 Q67.82,403.02 67.98,403.75Z" fill="url(#grb)" opacity="0.59" filter="url(#fbl)"/>
<path d="M67.98,403.75 Q68.14,404.49 68.24,405.23 Q68.33,405.98 68.37,406.77 Q68.40,407.57 68.22,408.39 Q68.03,409.22 67.51,409.94 Q66.98,410.67 66.19,411.16 Q65.40,411.65 64.51,411.92 Q63.62,412.19 62.75,412.34 Q61.88,412.49 61.01,412.58 Q60.15,412.68 59.26,412.66 Q58.38,412.65 57.52,412.43 Q56.66,412.20 55.94,411.74 Q55.22,411.28 54.72,410.63 Q54.23,409.99 53.96,409.27 Q53.68,408.54 53.58,407.81 Q53.48,407.07 53.46,406.35 Q53.45,405.63 53.47,404.89 Q53.49,404.15 53.59,403.34 Q53.70,402.54 54.03,401.71 Q54.35,400.88 55.00,400.19 Q55.65,399.50 56.56,399.13 Q57.48,398.75 58.46,398.73 Q59.45,398.71 60.34,398.88 Q61.24,399.06 62.04,399.26 Q62.85,399.46 63.64,399.67 Q64.44,399.88 65.20,400.21 Q65.96,400.54 66.55,401.08 Q67.15,401.63 67.49,402.32 Q67.82,403.02 67.98,403.75Z" fill="url(#gr)" opacity="0.72" filter="url(#fsp)"/>
<rect x="87.90" y="385.90" width="49.2" height="36.6" fill="#010201"/>
<ellipse cx="111.8" cy="404.5" rx="14.8" ry="12.6" fill="#0a2a0a" opacity="0.07" filter="url(#fhalo)"/>
<path d="M119.23,402.44 Q119.44,403.15 119.44,403.90 Q119.45,404.64 119.28,405.37 Q119.11,406.10 118.78,406.80 Q118.45,407.50 118.00,408.16 Q117.55,408.83 116.99,409.48 Q116.43,410.13 115.70,410.71 Q114.97,411.30 114.05,411.68 Q113.13,412.05 112.14,412.05 Q111.14,412.05 110.28,411.65 Q109.42,411.26 108.79,410.68 Q108.16,410.10 107.66,409.56 Q107.15,409.02 106.59,408.59 Q106.03,408.15 105.41,407.67 Q104.78,407.20 104.31,406.55 Q103.83,405.90 103.72,405.13 Q103.61,404.35 103.86,403.58 Q104.10,402.81 104.53,402.11 Q104.95,401.41 105.44,400.75 Q105.93,400.09 106.54,399.46 Q107.14,398.83 107.93,398.35 Q108.71,397.87 109.63,397.66 Q110.56,397.44 111.48,397.50 Q112.40,397.56 113.24,397.79 Q114.09,398.02 114.85,398.33 Q115.62,398.63 116.32,399.03 Q117.02,399.42 117.61,399.93 Q118.20,400.45 118.61,401.09 Q119.02,401.72 119.23,402.44Z" fill="url(#grb)" opacity="0.59" filter="url(#fbl)"/>
<path d="M119.23,402.44 Q119.44,403.15 119.44,403.90 Q119.45,404.64 119.28,405.37 Q119.11,406.10 118.78,406.80 Q118.45,407.50 118.00,408.16 Q117.55,408.83 116.99,409.48 Q116.43,410.13 115.70,410.71 Q114.97,411.30 114.05,411.68 Q113.13,412.05 112.14,412.05 Q111.14,412.05 110.28,411.65 Q109.42,411.26 108.79,410.68 Q108.16,410.10 107.66,409.56 Q107.15,409.02 106.59,408.59 Q106.03,408.15 105.41,407.67 Q104.78,407.20 104.31,406.55 Q103.83,405.90 103.72,405.13 Q103.61,404.35 103.86,403.58 Q104.10,402.81 104.53,402.11 Q104.95,401.41 105.44,400.75 Q105.93,400.09 106.54,399.46 Q107.14,398.83 107.93,398.35 Q108.71,397.87 109.63,397.66 Q110.56,397.44 111.48,397.50 Q112.40,397.56 113.24,397.79 Q114.09,398.02 114.85,398.33 Q115.62,398.63 116.32,399.03 Q117.02,399.42 117.61,399.93 Q118.20,400.45 118.61,401.09 Q119.02,401.72 119.23,402.44Z" fill="url(#gr)" opacity="0.72" filter="url(#fsp)"/>
<rect x="138.60" y="385.90" width="49.2" height="36.6" fill="#010201"/>
<ellipse cx="162.3" cy="406.2" rx="14.8" ry="11.9" fill="#0a2a0a" opacity="0.07" filter="url(#fhalo)"/>
<path d="M169.77,403.44 Q169.96,404.15 170.02,404.86 Q170.09,405.57 170.06,406.31 Q170.04,407.04 169.81,407.78 Q169.59,408.52 169.06,409.18 Q168.53,409.84 167.76,410.29 Q166.98,410.74 166.14,410.99 Q165.31,411.24 164.53,411.41 Q163.74,411.59 162.98,411.81 Q162.22,412.03 161.37,412.24 Q160.52,412.46 159.59,412.52 Q158.66,412.57 157.76,412.38 Q156.86,412.18 156.12,411.72 Q155.37,411.27 154.85,410.63 Q154.33,409.99 154.09,409.22 Q153.86,408.46 153.97,407.66 Q154.07,406.86 154.48,406.13 Q154.88,405.40 155.43,404.79 Q155.98,404.18 156.51,403.66 Q157.04,403.13 157.53,402.60 Q158.03,402.06 158.60,401.51 Q159.17,400.96 159.91,400.49 Q160.65,400.03 161.52,399.77 Q162.40,399.51 163.31,399.48 Q164.22,399.45 165.10,399.61 Q165.98,399.77 166.76,400.10 Q167.55,400.43 168.18,400.94 Q168.80,401.44 169.19,402.09 Q169.59,402.74 169.77,403.44Z" fill="url(#grb)" opacity="0.59" filter="url(#fbl)"/>
<path d="M169.77,403.44 Q169.96,404.15 170.02,404.86 Q170.09,405.57 170.06,406.31 Q170.04,407.04 169.81,407.78 Q169.59,408.52 169.06,409.18 Q168.53,409.84 167.76,410.29 Q166.98,410.74 166.14,410.99 Q165.31,411.24 164.53,411.41 Q163.74,411.59 162.98,411.81 Q162.22,412.03 161.37,412.24 Q160.52,412.46 159.59,412.52 Q158.66,412.57 157.76,412.38 Q156.86,412.18 156.12,411.72 Q155.37,411.27 154.85,410.63 Q154.33,409.99 154.09,409.22 Q153.86,408.46 153.97,407.66 Q154.07,406.86 154.48,406.13 Q154.88,405.40 155.43,404.79 Q155.98,404.18 156.51,403.66 Q157.04,403.13 157.53,402.60 Q158.03,402.06 158.60,401.51 Q159.17,400.96 159.91,400.49 Q160.65,400.03 161.52,399.77 Q162.40,399.51 163.31,399.48 Q164.22,399.45 165.10,399.61 Q165.98,399.77 166.76,400.10 Q167.55,400.43 168.18,400.94 Q168.80,401.44 169.19,402.09 Q169.59,402.74 169.77,403.44Z" fill="url(#gr)" opacity="0.72" filter="url(#fsp)"/>
<rect x="189.30" y="385.90" width="49.2" height="36.6" fill="#010201"/>
<ellipse cx="212.2" cy="404.5" rx="14.8" ry="11.2" fill="#0a2a0a" opacity="0.07" filter="url(#fhalo)"/>
<path d="M220.07,402.40 Q220.23,403.08 220.14,403.78 Q220.04,404.47 219.87,405.15 Q219.69,405.82 219.46,406.52 Q219.24,407.22 218.84,407.92 Q218.43,408.62 217.73,409.20 Q217.03,409.77 216.10,410.07 Q215.17,410.37 214.21,410.40 Q213.24,410.42 212.38,410.30 Q211.52,410.18 210.75,410.01 Q209.98,409.85 209.26,409.65 Q208.53,409.46 207.86,409.16 Q207.19,408.87 206.62,408.46 Q206.04,408.06 205.57,407.55 Q205.11,407.05 204.72,406.47 Q204.34,405.89 204.11,405.21 Q203.87,404.53 203.89,403.78 Q203.91,403.04 204.26,402.31 Q204.62,401.58 205.27,400.96 Q205.92,400.35 206.75,399.90 Q207.58,399.46 208.49,399.21 Q209.40,398.96 210.30,398.89 Q211.20,398.83 212.03,398.91 Q212.86,398.99 213.61,399.13 Q214.37,399.27 215.11,399.42 Q215.85,399.57 216.64,399.76 Q217.42,399.95 218.16,400.29 Q218.90,400.63 219.40,401.18 Q219.91,401.73 220.07,402.40Z" fill="url(#grb)" opacity="0.52" filter="url(#fbl)"/>
<path d="M220.07,402.40 Q220.23,403.08 220.14,403.78 Q220.04,404.47 219.87,405.15 Q219.69,405.82 219.46,406.52 Q219.24,407.22 218.84,407.92 Q218.43,408.62 217.73,409.20 Q217.03,409.77 216.10,410.07 Q215.17,410.37 214.21,410.40 Q213.24,410.42 212.38,410.30 Q211.52,410.18 210.75,410.01 Q209.98,409.85 209.26,409.65 Q208.53,409.46 207.86,409.16 Q207.19,408.87 206.62,408.46 Q206.04,408.06 205.57,407.55 Q205.11,407.05 204.72,406.47 Q204.34,405.89 204.11,405.21 Q203.87,404.53 203.89,403.78 Q203.91,403.04 204.26,402.31 Q204.62,401.58 205.27,400.96 Q205.92,400.35 206.75,399.90 Q207.58,399.46 208.49,399.21 Q209.40,398.96 210.30,398.89 Q211.20,398.83 212.03,398.91 Q212.86,398.99 213.61,399.13 Q214.37,399.27 215.11,399.42 Q215.85,399.57 216.64,399.76 Q217.42,399.95 218.16,400.29 Q218.90,400.63 219.40,401.18 Q219.91,401.73 220.07,402.40Z" fill="url(#gr)" opacity="0.65" filter="url(#fsp)"/>
<rect x="240.00" y="385.90" width="49.2" height="36.6" fill="#010201"/>
<ellipse cx="261.7" cy="403.1" rx="10.3" ry="9.4" fill="#0a2a0a" opacity="0.02" filter="url(#fhalo)"/>
<path d="M267.26,402.53 Q267.38,403.10 267.34,403.68 Q267.29,404.26 267.11,404.83 Q266.93,405.40 266.61,405.91 Q266.28,406.43 265.80,406.83 Q265.32,407.24 264.74,407.49 Q264.16,407.75 263.55,407.90 Q262.94,408.05 262.32,408.14 Q261.70,408.22 261.06,408.20 Q260.43,408.19 259.83,407.98 Q259.24,407.77 258.80,407.34 Q258.36,406.92 258.12,406.40 Q257.88,405.88 257.70,405.41 Q257.53,404.93 257.27,404.50 Q257.01,404.08 256.68,403.59 Q256.35,403.10 256.13,402.50 Q255.91,401.89 255.99,401.26 Q256.07,400.63 256.45,400.09 Q256.83,399.55 257.38,399.17 Q257.92,398.78 258.54,398.52 Q259.15,398.26 259.79,398.14 Q260.43,398.01 261.06,398.04 Q261.70,398.08 262.28,398.28 Q262.86,398.48 263.35,398.76 Q263.84,399.04 264.30,399.32 Q264.75,399.61 265.21,399.91 Q265.67,400.21 266.11,400.59 Q266.54,400.97 266.84,401.47 Q267.14,401.97 267.26,402.53Z" fill="#0a4a0c" opacity="0.10" filter="url(#fbl)"/>
<path d="M267.26,402.53 Q267.38,403.10 267.34,403.68 Q267.29,404.26 267.11,404.83 Q266.93,405.40 266.61,405.91 Q266.28,406.43 265.80,406.83 Q265.32,407.24 264.74,407.49 Q264.16,407.75 263.55,407.90 Q262.94,408.05 262.32,408.14 Q261.70,408.22 261.06,408.20 Q260.43,408.19 259.83,407.98 Q259.24,407.77 258.80,407.34 Q258.36,406.92 258.12,406.40 Q257.88,405.88 257.70,405.41 Q257.53,404.93 257.27,404.50 Q257.01,404.08 256.68,403.59 Q256.35,403.10 256.13,402.50 Q255.91,401.89 255.99,401.26 Q256.07,400.63 256.45,400.09 Q256.83,399.55 257.38,399.17 Q257.92,398.78 258.54,398.52 Q259.15,398.26 259.79,398.14 Q260.43,398.01 261.06,398.04 Q261.70,398.08 262.28,398.28 Q262.86,398.48 263.35,398.76 Q263.84,399.04 264.30,399.32 Q264.75,399.61 265.21,399.91 Q265.67,400.21 266.11,400.59 Q266.54,400.97 266.84,401.47 Q267.14,401.97 267.26,402.53Z" fill="#16c81c" opacity="0.60" filter="url(#fdim)"/>
<text x="266.9" y="418.5" font-size="8.2" text-anchor="middle" fill="#fff">3000μm</text>
<line x1="246.40" y1="421.70" x2="287.80" y2="421.70" stroke="#fff" stroke-width="1.3"/>
</g>
<g id="panel-c">
<text x="342.6" y="199.6" font-size="16.0" font-weight="bold" fill="#151515">c</text>
<line x1="373.60" y1="209.60" x2="373.60" y2="395.55" stroke="#000" stroke-width="1.35"/>
<line x1="372.95" y1="394.90" x2="599.00" y2="394.90" stroke="#000" stroke-width="1.35"/>
<line x1="368.10" y1="394.90" x2="373.60" y2="394.90" stroke="#000" stroke-width="1.25"/>
<text x="366.6" y="397.9" font-size="8.2" text-anchor="end" fill="#151515" stroke="#151515" stroke-width="0.18">0.0</text>
<line x1="370.10" y1="378.13" x2="373.60" y2="378.13" stroke="#000" stroke-width="1.25"/>
<line x1="368.10" y1="361.36" x2="373.60" y2="361.36" stroke="#000" stroke-width="1.25"/>
<text x="366.6" y="364.35999999999996" font-size="8.2" text-anchor="end" fill="#151515" stroke="#151515" stroke-width="0.18">0.2</text>
<line x1="370.10" y1="344.59" x2="373.60" y2="344.59" stroke="#000" stroke-width="1.25"/>
<line x1="368.10" y1="327.82" x2="373.60" y2="327.82" stroke="#000" stroke-width="1.25"/>
<text x="366.6" y="330.82" font-size="8.2" text-anchor="end" fill="#151515" stroke="#151515" stroke-width="0.18">0.4</text>
<line x1="370.10" y1="311.05" x2="373.60" y2="311.05" stroke="#000" stroke-width="1.25"/>
<line x1="368.10" y1="294.28" x2="373.60" y2="294.28" stroke="#000" stroke-width="1.25"/>
<text x="366.6" y="297.28" font-size="8.2" text-anchor="end" fill="#151515" stroke="#151515" stroke-width="0.18">0.6</text>
<line x1="370.10" y1="277.51" x2="373.60" y2="277.51" stroke="#000" stroke-width="1.25"/>
<line x1="368.10" y1="260.74" x2="373.60" y2="260.74" stroke="#000" stroke-width="1.25"/>
<text x="366.6" y="263.74" font-size="8.2" text-anchor="end" fill="#151515" stroke="#151515" stroke-width="0.18">0.8</text>
<line x1="370.10" y1="243.97" x2="373.60" y2="243.97" stroke="#000" stroke-width="1.25"/>
<line x1="368.10" y1="227.20" x2="373.60" y2="227.20" stroke="#000" stroke-width="1.25"/>
<text x="366.6" y="230.2" font-size="8.2" text-anchor="end" fill="#151515" stroke="#151515" stroke-width="0.18">1.0</text>
<line x1="370.10" y1="210.43" x2="373.60" y2="210.43" stroke="#000" stroke-width="1.25"/>
<line x1="395.60" y1="394.90" x2="395.60" y2="400.20" stroke="#000" stroke-width="1.25"/>
<text x="395.6" y="408.6" font-size="8.2" text-anchor="middle" fill="#151515" stroke="#151515" stroke-width="0.18">0</text>
<line x1="440.90" y1="394.90" x2="440.90" y2="400.20" stroke="#000" stroke-width="1.25"/>
<text x="440.9" y="408.6" font-size="8.2" text-anchor="middle" fill="#151515" stroke="#151515" stroke-width="0.18">12</text>
<line x1="486.00" y1="394.90" x2="486.00" y2="400.20" stroke="#000" stroke-width="1.25"/>
<text x="486.0" y="408.6" font-size="8.2" text-anchor="middle" fill="#151515" stroke="#151515" stroke-width="0.18">24</text>
<line x1="531.10" y1="394.90" x2="531.10" y2="400.20" stroke="#000" stroke-width="1.25"/>
<text x="531.1" y="408.6" font-size="8.2" text-anchor="middle" fill="#151515" stroke="#151515" stroke-width="0.18">48</text>
<line x1="575.90" y1="394.90" x2="575.90" y2="400.20" stroke="#000" stroke-width="1.25"/>
<text x="575.9" y="408.6" font-size="8.2" text-anchor="middle" fill="#151515" stroke="#151515" stroke-width="0.18">72</text>
<text x="478" y="423.0" font-size="8.3" font-weight="bold" text-anchor="middle" fill="#151515">Hours (h)</text>
<text x="347.9" y="309.4" font-size="8.45" text-anchor="middle" transform="rotate(-90 347.9 309.4)" fill="#151515" stroke="#151515" stroke-width="0.18" textLength="136">Relative fluorescence intensity (RFI)</text>
<polyline points="395.60,227.20 440.90,251.52 486.00,285.56 531.10,306.02 575.90,388.19" fill="none" stroke="#ff8c1a" stroke-width="1.1"/>
<line x1="440.90" y1="251.52" x2="440.90" y2="240.45" stroke="#ff8c1a" stroke-width="0.8"/>
<line x1="437.60" y1="240.45" x2="444.20" y2="240.45" stroke="#ff8c1a" stroke-width="0.8"/>
<line x1="486.00" y1="285.56" x2="486.00" y2="272.48" stroke="#ff8c1a" stroke-width="0.8"/>
<line x1="482.70" y1="272.48" x2="489.30" y2="272.48" stroke="#ff8c1a" stroke-width="0.8"/>
<line x1="531.10" y1="306.02" x2="531.10" y2="285.89" stroke="#ff8c1a" stroke-width="0.8"/>
<line x1="527.80" y1="285.89" x2="534.40" y2="285.89" stroke="#ff8c1a" stroke-width="0.8"/>
<polygon points="395.60,223.10 396.54,225.91 399.50,225.93 397.12,227.69 398.01,230.52 395.60,228.80 393.19,230.52 394.08,227.69 391.70,225.93 394.66,225.91" fill="#ff8c1a"/>
<polygon points="440.90,247.42 441.84,250.22 444.80,250.25 442.42,252.01 443.31,254.83 440.90,253.12 438.49,254.83 439.38,252.01 437.00,250.25 439.96,250.22" fill="#ff8c1a"/>
<polygon points="486.00,281.46 486.94,284.27 489.90,284.29 487.52,286.05 488.41,288.88 486.00,287.16 483.59,288.88 484.48,286.05 482.10,284.29 485.06,284.27" fill="#ff8c1a"/>
<polygon points="531.10,301.92 532.04,304.72 535.00,304.75 532.62,306.51 533.51,309.34 531.10,307.62 528.69,309.34 529.58,306.51 527.20,304.75 530.16,304.72" fill="#ff8c1a"/>
<polygon points="575.90,384.09 576.84,386.90 579.80,386.93 577.42,388.69 578.31,391.51 575.90,389.79 573.49,391.51 574.38,388.69 572.00,386.93 574.96,386.90" fill="#ff8c1a"/>
<polyline points="395.60,227.20 440.90,233.57 486.00,264.93 531.10,305.18 575.90,384.00" fill="none" stroke="#b44be1" stroke-width="1.1"/>
<line x1="486.00" y1="264.93" x2="486.00" y2="249.00" stroke="#b44be1" stroke-width="0.8"/>
<line x1="482.70" y1="249.00" x2="489.30" y2="249.00" stroke="#b44be1" stroke-width="0.8"/>
<line x1="531.10" y1="305.18" x2="531.10" y2="272.81" stroke="#b44be1" stroke-width="0.8"/>
<line x1="527.80" y1="272.81" x2="534.40" y2="272.81" stroke="#b44be1" stroke-width="0.8"/>
<line x1="575.90" y1="384.00" x2="575.90" y2="376.45" stroke="#b44be1" stroke-width="0.8"/>
<line x1="572.60" y1="376.45" x2="579.20" y2="376.45" stroke="#b44be1" stroke-width="0.8"/>
<polygon points="399.30,227.20 397.45,230.40 393.75,230.40 391.90,227.20 393.75,224.00 397.45,224.00" fill="#b44be1"/>
<polygon points="444.60,233.57 442.75,236.78 439.05,236.78 437.20,233.57 439.05,230.37 442.75,230.37" fill="#b44be1"/>
<polygon points="489.70,264.93 487.85,268.14 484.15,268.14 482.30,264.93 484.15,261.73 487.85,261.73" fill="#b44be1"/>
<polygon points="534.80,305.18 532.95,308.38 529.25,308.38 527.40,305.18 529.25,301.98 532.95,301.98" fill="#b44be1"/>
<polygon points="579.60,384.00 577.75,387.20 574.05,387.20 572.20,384.00 574.05,380.80 577.75,380.80" fill="#b44be1"/>
<polyline points="395.60,227.20 440.90,231.39 486.00,246.15 531.10,268.12 575.90,355.49" fill="none" stroke="#0a18ff" stroke-width="1.1"/>
<path d="M395.60,223.20 L399.30,227.20 L395.60,231.20 L391.90,227.20 Z" fill="#0a18ff"/>
<path d="M440.90,227.39 L444.60,231.39 L440.90,235.39 L437.20,231.39 Z" fill="#0a18ff"/>
<path d="M486.00,242.15 L489.70,246.15 L486.00,250.15 L482.30,246.15 Z" fill="#0a18ff"/>
<path d="M531.10,264.12 L534.80,268.12 L531.10,272.12 L527.40,268.12 Z" fill="#0a18ff"/>
<path d="M575.90,351.49 L579.60,355.49 L575.90,359.49 L572.20,355.49 Z" fill="#0a18ff"/>
<polyline points="395.60,227.20 440.90,227.20 486.00,230.05 531.10,244.81 575.90,338.72" fill="none" stroke="#10ee10" stroke-width="1.1"/>
<line x1="575.90" y1="338.72" x2="575.90" y2="321.11" stroke="#10ee10" stroke-width="0.8"/>
<line x1="572.60" y1="321.11" x2="579.20" y2="321.11" stroke="#10ee10" stroke-width="0.8"/>
<path d="M395.60,223.10 L399.50,230.40 L391.70,230.40 Z" fill="#10ee10"/>
<path d="M440.90,223.10 L444.80,230.40 L437.00,230.40 Z" fill="#10ee10"/>
<path d="M486.00,225.95 L489.90,233.25 L482.10,233.25 Z" fill="#10ee10"/>
<path d="M531.10,240.71 L535.00,248.01 L527.20,248.01 Z" fill="#10ee10"/>
<path d="M575.90,334.62 L579.80,341.92 L572.00,341.92 Z" fill="#10ee10"/>
<polyline points="395.60,227.20 440.90,227.20 486.00,236.26 531.10,242.13 575.90,327.48" fill="none" stroke="#ff0d0d" stroke-width="1.1"/>
<line x1="531.10" y1="242.13" x2="531.10" y2="227.03" stroke="#ff0d0d" stroke-width="0.8"/>
<line x1="527.80" y1="227.03" x2="534.40" y2="227.03" stroke="#ff0d0d" stroke-width="0.8"/>
<line x1="575.90" y1="327.48" x2="575.90" y2="292.77" stroke="#ff0d0d" stroke-width="0.8"/>
<line x1="572.60" y1="292.77" x2="579.20" y2="292.77" stroke="#ff0d0d" stroke-width="0.8"/>
<rect x="392.10" y="223.70" width="7.0" height="7.0" fill="#ff0d0d"/>
<rect x="437.40" y="223.70" width="7.0" height="7.0" fill="#ff0d0d"/>
<rect x="482.50" y="232.76" width="7.0" height="7.0" fill="#ff0d0d"/>
<rect x="527.60" y="238.63" width="7.0" height="7.0" fill="#ff0d0d"/>
<rect x="572.40" y="323.98" width="7.0" height="7.0" fill="#ff0d0d"/>
<polyline points="395.60,227.20 440.90,221.16 486.00,225.52 531.10,227.20 575.90,231.73" fill="none" stroke="#000" stroke-width="1.1"/>
<line x1="440.90" y1="221.16" x2="440.90" y2="212.44" stroke="#000" stroke-width="0.8"/>
<line x1="437.60" y1="212.44" x2="444.20" y2="212.44" stroke="#000" stroke-width="0.8"/>
<line x1="486.00" y1="225.52" x2="486.00" y2="222.50" stroke="#000" stroke-width="0.8"/>
<line x1="482.70" y1="222.50" x2="489.30" y2="222.50" stroke="#000" stroke-width="0.8"/>
<line x1="575.90" y1="231.73" x2="575.90" y2="216.80" stroke="#000" stroke-width="0.8"/>
<line x1="572.60" y1="216.80" x2="579.20" y2="216.80" stroke="#000" stroke-width="0.8"/>
<circle cx="395.60" cy="227.20" r="3.65" fill="#000"/>
<circle cx="440.90" cy="221.16" r="3.65" fill="#000"/>
<circle cx="486.00" cy="225.52" r="3.65" fill="#000"/>
<circle cx="531.10" cy="227.20" r="3.65" fill="#000"/>
<circle cx="575.90" cy="231.73" r="3.65" fill="#000"/>
<line x1="644.00" y1="259.80" x2="660.20" y2="259.80" stroke="#000" stroke-width="1.1"/>
<circle cx="652.10" cy="259.80" r="3.65" fill="#000"/>
<text x="664.0" y="262.6" font-size="8.45" fill="#151515" stroke="#151515" stroke-width="0.18">NT</text>
<line x1="644.00" y1="279.90" x2="660.20" y2="279.90" stroke="#ff0d0d" stroke-width="1.1"/>
<rect x="648.60" y="276.40" width="7.0" height="7.0" fill="#ff0d0d"/>
<text x="664.0" y="282.7" font-size="8.45" fill="#151515" stroke="#151515" stroke-width="0.18">1: 2</text>
<line x1="644.00" y1="299.70" x2="660.20" y2="299.70" stroke="#10ee10" stroke-width="1.1"/>
<path d="M652.10,295.60 L656.00,302.90 L648.20,302.90 Z" fill="#10ee10"/>
<text x="664.0" y="302.5" font-size="8.45" fill="#151515" stroke="#151515" stroke-width="0.18">1: 1</text>
<line x1="644.00" y1="319.70" x2="660.20" y2="319.70" stroke="#0a18ff" stroke-width="1.1"/>
<path d="M652.10,315.70 L655.80,319.70 L652.10,323.70 L648.40,319.70 Z" fill="#0a18ff"/>
<text x="664.0" y="322.5" font-size="8.45" fill="#151515" stroke="#151515" stroke-width="0.18">2: 1</text>
<line x1="644.00" y1="339.60" x2="660.20" y2="339.60" stroke="#b44be1" stroke-width="1.1"/>
<polygon points="655.80,339.60 653.95,342.80 650.25,342.80 648.40,339.60 650.25,336.40 653.95,336.40" fill="#b44be1"/>
<text x="664.0" y="342.40000000000003" font-size="8.45" fill="#151515" stroke="#151515" stroke-width="0.18">5: 1</text>
<line x1="644.00" y1="359.60" x2="660.20" y2="359.60" stroke="#ff8c1a" stroke-width="1.1"/>
<polygon points="652.10,355.50 653.04,358.31 656.00,358.33 653.62,360.09 654.51,362.92 652.10,361.20 649.69,362.92 650.58,360.09 648.20,358.33 651.16,358.31" fill="#ff8c1a"/>
<text x="664.0" y="362.40000000000003" font-size="8.45" fill="#151515" stroke="#151515" stroke-width="0.18">10: 1</text>
<line x1="598.50" y1="259.30" x2="642.20" y2="259.30" stroke="#111" stroke-width="0.75"/>
<path d="M598.8,259.3 V359.6 H607.8" fill="none" stroke="#111" stroke-width="0.75"/>
<text x="607.8" y="309.0" font-size="8.2" text-anchor="middle" transform="rotate(-90 607.8 309.0)" fill="#151515" stroke="#151515" stroke-width="0.18">****</text>
<path d="M608.7,259.3 V339.6 H617.7" fill="none" stroke="#111" stroke-width="0.75"/>
<text x="617.8" y="298.5" font-size="8.2" text-anchor="middle" transform="rotate(-90 617.8 298.5)" fill="#151515" stroke="#151515" stroke-width="0.18">****</text>
<path d="M618.6,259.3 V319.4 H626.9" fill="none" stroke="#111" stroke-width="0.75"/>
<text x="627.9" y="288.7" font-size="8.2" text-anchor="middle" transform="rotate(-90 627.9 288.7)" fill="#151515" stroke="#151515" stroke-width="0.18">****</text>
<path d="M627.3,259.3 V299.2 H634.9" fill="none" stroke="#111" stroke-width="0.75"/>
<text x="636.5" y="278.79999999999995" font-size="8.2" text-anchor="middle" transform="rotate(-90 636.5 278.79999999999995)" fill="#151515" stroke="#151515" stroke-width="0.18">****</text>
<path d="M637.1,259.3 V279.4 H642.2" fill="none" stroke="#111" stroke-width="0.75"/>
<text x="645.9" y="269.2" font-size="8.2" text-anchor="middle" transform="rotate(-90 645.9 269.2)" fill="#151515" stroke="#151515" stroke-width="0.18">****</text>
</g>
<g id="panel-d">
<text x="0.3" y="467.6" font-size="16.0" font-weight="bold" fill="#151515">d</text>
<text x="0.2" y="482.7" font-size="8.45" fill="#151515" stroke="#151515" stroke-width="0.18">Organoid implantation</text>
<text x="153.4" y="460.6" font-size="8.45" text-anchor="middle" fill="#151515" stroke="#151515" stroke-width="0.18">IL-13Rα2 UCAR-T</text>
<text x="153.4" y="470.9" font-size="8.45" text-anchor="middle" fill="#151515" stroke="#151515" stroke-width="0.18">(MT026) injection</text>
<text x="152.2" y="482.7" font-size="8.45" text-anchor="middle" fill="#151515" stroke="#151515" stroke-width="0.18">2.5x10<tspan font-size="4.6" dy="-3.2">6</tspan></text>
<text x="95.9" y="491.6" font-size="8.45" text-anchor="middle" fill="#151515" stroke="#151515" stroke-width="0.18">Imaging</text>
<text x="246.5" y="491.6" font-size="8.45" text-anchor="middle" fill="#151515" stroke="#151515" stroke-width="0.18">Imaging</text>
<text x="337.1" y="484.7" font-size="8.45" text-anchor="middle" fill="#151515" stroke="#151515" stroke-width="0.18">Euthanasia</text>
<line x1="40.40" y1="518.60" x2="338.40" y2="518.60" stroke="#000" stroke-width="1.5"/>
<line x1="41.70" y1="487.90" x2="41.70" y2="506.60" stroke="#000" stroke-width="1.5"/><path d="M39.00,504.60 L44.40,504.60 L41.70,518.60 Z" fill="#000"/>
<line x1="151.90" y1="487.90" x2="151.90" y2="506.60" stroke="#000" stroke-width="1.5"/><path d="M149.20,504.60 L154.60,504.60 L151.90,518.60 Z" fill="#000"/>
<line x1="337.60" y1="487.90" x2="337.60" y2="506.60" stroke="#000" stroke-width="1.5"/><path d="M334.90,504.60 L340.30,504.60 L337.60,518.60 Z" fill="#000"/>
<line x1="78.10" y1="497.50" x2="78.10" y2="506.60" stroke="#000" stroke-width="1.5"/><path d="M75.40,504.60 L80.80,504.60 L78.10,518.60 Z" fill="#000"/>
<line x1="113.70" y1="497.50" x2="113.70" y2="506.60" stroke="#000" stroke-width="1.5"/><path d="M111.00,504.60 L116.40,504.60 L113.70,518.60 Z" fill="#000"/>
<line x1="77.35" y1="497.50" x2="114.45" y2="497.50" stroke="#000" stroke-width="1.5"/>
<line x1="188.90" y1="495.70" x2="188.90" y2="506.60" stroke="#000" stroke-width="1.5"/><path d="M186.20,504.60 L191.60,504.60 L188.90,518.60 Z" fill="#000"/>
<line x1="227.20" y1="495.70" x2="227.20" y2="506.60" stroke="#000" stroke-width="1.5"/><path d="M224.50,504.60 L229.90,504.60 L227.20,518.60 Z" fill="#000"/>
<line x1="265.40" y1="495.70" x2="265.40" y2="506.60" stroke="#000" stroke-width="1.5"/><path d="M262.70,504.60 L268.10,504.60 L265.40,518.60 Z" fill="#000"/>
<line x1="304.00" y1="495.70" x2="304.00" y2="506.60" stroke="#000" stroke-width="1.5"/><path d="M301.30,504.60 L306.70,504.60 L304.00,518.60 Z" fill="#000"/>
<line x1="188.15" y1="495.70" x2="304.75" y2="495.70" stroke="#000" stroke-width="1.5"/>
<text x="42.7" y="529.6" font-size="8.45" text-anchor="middle" fill="#151515" stroke="#151515" stroke-width="0.18">D0</text>
<text x="79.1" y="529.6" font-size="8.45" text-anchor="middle" fill="#151515" stroke="#151515" stroke-width="0.18">D7</text>
<text x="116.0" y="529.6" font-size="8.45" text-anchor="middle" fill="#151515" stroke="#151515" stroke-width="0.18">D14</text>
<text x="153.7" y="529.6" font-size="8.45" text-anchor="middle" fill="#151515" stroke="#151515" stroke-width="0.18">D15</text>
<text x="190.1" y="529.6" font-size="8.45" text-anchor="middle" fill="#151515" stroke="#151515" stroke-width="0.18">D18</text>
<text x="227.2" y="529.6" font-size="8.45" text-anchor="middle" fill="#151515" stroke="#151515" stroke-width="0.18">D22</text>
<text x="264.6" y="529.6" font-size="8.45" text-anchor="middle" fill="#151515" stroke="#151515" stroke-width="0.18">D29</text>
<text x="301.4" y="529.6" font-size="8.45" text-anchor="middle" fill="#151515" stroke="#151515" stroke-width="0.18">D36</text>
<text x="338.4" y="529.6" font-size="8.45" text-anchor="middle" fill="#151515" stroke="#151515" stroke-width="0.18">D40</text>
</g>
<g id="panel-e">
<text x="386.6" y="460.8" font-size="16.0" font-weight="bold" fill="#151515">e</text>
<line x1="417.20" y1="455.60" x2="417.20" y2="591.35" stroke="#000" stroke-width="1.5"/>
<line x1="416.45" y1="590.60" x2="619.85" y2="590.60" stroke="#000" stroke-width="1.5"/>
<line x1="411.70" y1="590.60" x2="417.20" y2="590.60" stroke="#000" stroke-width="1.0"/>
<text x="410.8" y="593.6" font-size="8.2" text-anchor="end" fill="#151515" stroke="#151515" stroke-width="0.18">0</text>
<line x1="414.20" y1="584.51" x2="417.20" y2="584.51" stroke="#000" stroke-width="1.0"/>
<line x1="414.20" y1="578.43" x2="417.20" y2="578.43" stroke="#000" stroke-width="1.0"/>
<line x1="414.20" y1="572.35" x2="417.20" y2="572.35" stroke="#000" stroke-width="1.0"/>
<line x1="414.20" y1="566.26" x2="417.20" y2="566.26" stroke="#000" stroke-width="1.0"/>
<line x1="414.20" y1="560.18" x2="417.20" y2="560.18" stroke="#000" stroke-width="1.0"/>
<line x1="414.20" y1="554.09" x2="417.20" y2="554.09" stroke="#000" stroke-width="1.0"/>
<line x1="414.20" y1="548.00" x2="417.20" y2="548.00" stroke="#000" stroke-width="1.0"/>
<line x1="414.20" y1="541.92" x2="417.20" y2="541.92" stroke="#000" stroke-width="1.0"/>
<line x1="414.20" y1="535.84" x2="417.20" y2="535.84" stroke="#000" stroke-width="1.0"/>
<line x1="411.70" y1="529.75" x2="417.20" y2="529.75" stroke="#000" stroke-width="1.0"/>
<text x="410.8" y="532.75" font-size="8.2" text-anchor="end" fill="#151515" stroke="#151515" stroke-width="0.18">50</text>
<line x1="414.20" y1="523.66" x2="417.20" y2="523.66" stroke="#000" stroke-width="1.0"/>
<line x1="414.20" y1="517.58" x2="417.20" y2="517.58" stroke="#000" stroke-width="1.0"/>
<line x1="414.20" y1="511.50" x2="417.20" y2="511.50" stroke="#000" stroke-width="1.0"/>
<line x1="414.20" y1="505.41" x2="417.20" y2="505.41" stroke="#000" stroke-width="1.0"/>
<line x1="414.20" y1="499.33" x2="417.20" y2="499.33" stroke="#000" stroke-width="1.0"/>
<line x1="414.20" y1="493.24" x2="417.20" y2="493.24" stroke="#000" stroke-width="1.0"/>
<line x1="414.20" y1="487.16" x2="417.20" y2="487.16" stroke="#000" stroke-width="1.0"/>
<line x1="414.20" y1="481.07" x2="417.20" y2="481.07" stroke="#000" stroke-width="1.0"/>
<line x1="414.20" y1="474.99" x2="417.20" y2="474.99" stroke="#000" stroke-width="1.0"/>
<line x1="411.70" y1="468.90" x2="417.20" y2="468.90" stroke="#000" stroke-width="1.0"/>
<text x="410.8" y="471.90000000000003" font-size="8.2" text-anchor="end" fill="#151515" stroke="#151515" stroke-width="0.18">100</text>
<line x1="414.20" y1="462.81" x2="417.20" y2="462.81" stroke="#000" stroke-width="1.0"/>
<line x1="414.20" y1="456.73" x2="417.20" y2="456.73" stroke="#000" stroke-width="1.0"/>
<line x1="417.20" y1="590.60" x2="417.20" y2="596.10" stroke="#000" stroke-width="1.0"/>
<text x="416.7" y="605.0" font-size="8.2" text-anchor="middle" fill="#151515" stroke="#151515" stroke-width="0.18">25</text>
<line x1="430.66" y1="590.60" x2="430.66" y2="593.80" stroke="#000" stroke-width="1.0"/>
<line x1="444.12" y1="590.60" x2="444.12" y2="593.80" stroke="#000" stroke-width="1.0"/>
<line x1="457.58" y1="590.60" x2="457.58" y2="593.80" stroke="#000" stroke-width="1.0"/>
<line x1="471.04" y1="590.60" x2="471.04" y2="593.80" stroke="#000" stroke-width="1.0"/>
<line x1="484.50" y1="590.60" x2="484.50" y2="596.10" stroke="#000" stroke-width="1.0"/>
<text x="484.0" y="605.0" font-size="8.2" text-anchor="middle" fill="#151515" stroke="#151515" stroke-width="0.18">30</text>
<line x1="497.96" y1="590.60" x2="497.96" y2="593.80" stroke="#000" stroke-width="1.0"/>
<line x1="511.42" y1="590.60" x2="511.42" y2="593.80" stroke="#000" stroke-width="1.0"/>
<line x1="524.88" y1="590.60" x2="524.88" y2="593.80" stroke="#000" stroke-width="1.0"/>
<line x1="538.34" y1="590.60" x2="538.34" y2="593.80" stroke="#000" stroke-width="1.0"/>
<line x1="551.80" y1="590.60" x2="551.80" y2="596.10" stroke="#000" stroke-width="1.0"/>
<text x="551.3" y="605.0" font-size="8.2" text-anchor="middle" fill="#151515" stroke="#151515" stroke-width="0.18">35</text>
<line x1="565.26" y1="590.60" x2="565.26" y2="593.80" stroke="#000" stroke-width="1.0"/>
<line x1="578.72" y1="590.60" x2="578.72" y2="593.80" stroke="#000" stroke-width="1.0"/>
<line x1="592.18" y1="590.60" x2="592.18" y2="593.80" stroke="#000" stroke-width="1.0"/>
<line x1="605.64" y1="590.60" x2="605.64" y2="593.80" stroke="#000" stroke-width="1.0"/>
<line x1="619.10" y1="590.60" x2="619.10" y2="596.10" stroke="#000" stroke-width="1.0"/>
<text x="618.6" y="605.0" font-size="8.2" text-anchor="middle" fill="#151515" stroke="#151515" stroke-width="0.18">40</text>
<text x="511.5" y="617.5" font-size="8.3" font-weight="bold" text-anchor="middle" fill="#151515">Time (Days)</text>
<text x="393.3" y="531.3" font-size="8.45" text-anchor="middle" transform="rotate(-90 393.3 531.3)" fill="#151515" stroke="#151515" stroke-width="0.18">Survival Probability (%)</text>
<line x1="417.20" y1="468.90" x2="619.10" y2="468.90" stroke="#ff0d0d" stroke-width="1.3"/>
<polyline points="417.20,468.90 484.50,468.90 484.50,484.11 511.42,484.11 511.42,514.54 565.26,514.54 565.26,529.75 578.72,529.75 578.72,575.39 605.64,575.39 605.64,590.60" fill="none" stroke="#000" stroke-width="1.4" stroke-linejoin="miter"/>
<circle cx="484.50" cy="484.11" r="2.75" fill="#000"/>
<circle cx="511.42" cy="514.54" r="2.75" fill="#000"/>
<circle cx="565.26" cy="529.75" r="2.75" fill="#000"/>
<circle cx="578.72" cy="575.39" r="2.75" fill="#000"/>
<circle cx="605.64" cy="590.60" r="2.75" fill="#000"/>
<circle cx="619.10" cy="468.90" r="2.5" fill="#fff" stroke="#ff0d0d" stroke-width="1.3"/>
<text x="551.3" y="491.6" font-size="8.2" text-anchor="middle" fill="#151515" stroke="#151515" stroke-width="0.18">****</text>
<line x1="600.10" y1="517.10" x2="613.90" y2="517.10" stroke="#000" stroke-width="1.4"/>
<circle cx="606.9" cy="517.1" r="2.75" fill="#000"/>
<text x="616.7" y="519.4" font-size="8.45" fill="#151515" stroke="#151515" stroke-width="0.18">NT</text>
<line x1="600.10" y1="541.70" x2="613.90" y2="541.70" stroke="#ff0d0d" stroke-width="1.3"/>
<circle cx="606.9" cy="541.7" r="2.5" fill="#fff" stroke="#ff0d0d" stroke-width="1.3"/>
<text x="616.7" y="539.2" font-size="8.45" fill="#151515" stroke="#151515" stroke-width="0.18">IL-13Rα2 UCAR-T</text>
<text x="649.4" y="548.5" font-size="8.45" text-anchor="middle" fill="#151515" stroke="#151515" stroke-width="0.18">(MT026)</text>
</g>
<g id="panel-f">
<text x="0.3" y="563.9" font-size="16.0" font-weight="bold" fill="#151515">f</text>
<text x="89.5" y="566.8" font-size="8.45" text-anchor="middle" fill="#151515" stroke="#151515" stroke-width="0.18">No treatment controls</text>
<text x="89.6" y="578.9" font-size="8.45" text-anchor="middle" fill="#151515" stroke="#151515" stroke-width="0.18">(NT)</text>
<text x="235.1" y="566.6" font-size="8.45" text-anchor="middle" fill="#151515" stroke="#151515" stroke-width="0.18">IL-13Rα2 UCAR-T</text>
<text x="234.4" y="578.5" font-size="8.45" text-anchor="middle" fill="#151515" stroke="#151515" stroke-width="0.18">(MT026)</text>
<text x="0.2" y="579.7" font-size="8.45" fill="#151515" stroke="#151515" stroke-width="0.18">Days</text>
<text x="10.6" y="604.5" font-size="8.45" text-anchor="middle" fill="#151515" stroke="#151515" stroke-width="0.18">7</text>
<text x="10.6" y="645.5" font-size="8.45" text-anchor="middle" fill="#151515" stroke="#151515" stroke-width="0.18">14</text>
<text x="10.6" y="677.6" font-size="8.45" text-anchor="middle" fill="#151515" stroke="#151515" stroke-width="0.18">15</text>
<text x="10.6" y="708.2" font-size="8.45" text-anchor="middle" fill="#151515" stroke="#151515" stroke-width="0.18">18</text>
<text x="10.6" y="749.1" font-size="8.45" text-anchor="middle" fill="#151515" stroke="#151515" stroke-width="0.18">22</text>
<text x="10.6" y="790.0" font-size="8.45" text-anchor="middle" fill="#151515" stroke="#151515" stroke-width="0.18">29</text>
<text x="10.6" y="830.7" font-size="8.45" text-anchor="middle" fill="#151515" stroke="#151515" stroke-width="0.18">36</text>
<text x="233.9" y="677.0" font-size="8.45" text-anchor="middle" fill="#151515" stroke="#151515" stroke-width="0.18">MT026 injection</text>
<rect x="21.1" y="673.8" width="137.1" height="3.0" fill="#000"/>
<g filter="url(#fm)">
<rect x="21.1" y="582.7" width="137.1" height="82.1" fill="url(#bgs)"/>
<rect x="166.1" y="582.7" width="136.0" height="82.1" fill="url(#bgs)"/>
<rect x="21.1" y="686.4" width="137.1" height="123.2" fill="url(#bgd)"/>
<rect x="21.1" y="809.5" width="86.1" height="40.6" fill="url(#bgd)"/>
<rect x="166.1" y="686.4" width="136.0" height="163.7" fill="url(#bgd)"/>
<clipPath id="cp1"><rect x="21.1" y="582.7" width="137.04" height="41.1"/></clipPath><g clip-path="url(#cp1)"><g transform="translate(29.67,583.10) rotate(5.9 0 20) skewX(-0.3) scale(0.984,0.994) translate(-8.55,0)"><use href="#ms0"/></g><g transform="translate(46.75,583.10) rotate(1.6 0 20) skewX(-2.5) scale(1.026,0.989) translate(-8.55,0)"><use href="#ms0"/></g><g transform="translate(63.84,583.10) rotate(1.9 0 20) skewX(0.8) scale(-0.995,1.013) translate(-8.55,0)"><use href="#ms2"/></g><g transform="translate(80.71,583.10) rotate(1.7 0 20) skewX(2.7) scale(1.019,0.999) translate(-8.55,0)"><use href="#ms0"/></g><g transform="translate(98.26,583.10) rotate(3.9 0 20) skewX(-1.4) scale(1.036,0.996) translate(-8.55,0)"><use href="#ms2"/></g><g transform="translate(115.44,583.10) rotate(-6.9 0 20) skewX(-3.3) scale(-0.958,0.978) translate(-8.55,0)"><use href="#ms2"/></g><g transform="translate(132.23,583.10) rotate(2.9 0 20) skewX(-1.5) scale(-1.049,1.010) translate(-8.55,0)"><use href="#ms0"/></g><g transform="translate(149.48,583.10) rotate(-1.4 0 20) skewX(2.8) scale(0.938,1.006) translate(-8.55,0)"><use href="#ms2"/></g></g>
<clipPath id="cp2"><rect x="166.1" y="582.7" width="137.04" height="41.1"/></clipPath><g clip-path="url(#cp2)"><g transform="translate(175.05,583.10) rotate(5.7 0 20) skewX(-0.2) scale(-0.893,0.973) translate(-8.55,0)"><use href="#ms1"/></g><g transform="translate(191.46,583.10) rotate(3.9 0 20) skewX(-1.8) scale(-0.901,0.998) translate(-8.55,0)"><use href="#ms0"/></g><g transform="translate(208.61,583.10) rotate(-5.3 0 20) skewX(-2.0) scale(1.004,1.005) translate(-8.55,0)"><use href="#ms1"/></g><g transform="translate(225.81,583.10) rotate(0.8 0 20) skewX(-0.4) scale(0.985,0.971) translate(-8.55,0)"><use href="#ms1"/></g><g transform="translate(243.00,583.10) rotate(-1.1 0 20) skewX(-2.3) scale(-0.967,0.967) translate(-8.55,0)"><use href="#ms0"/></g><g transform="translate(260.00,583.10) rotate(5.0 0 20) skewX(1.1) scale(0.917,0.984) translate(-8.55,0)"><use href="#ms0"/></g><g transform="translate(277.35,583.10) rotate(1.5 0 20) skewX(2.6) scale(0.944,0.961) translate(-8.55,0)"><use href="#ms0"/></g><g transform="translate(294.67,583.10) rotate(-6.8 0 20) skewX(-1.1) scale(0.917,0.998) translate(-8.55,0)"><use href="#ms2"/></g></g>
<clipPath id="cp3"><rect x="21.1" y="623.7" width="137.04" height="41.1"/></clipPath><g clip-path="url(#cp3)"><g transform="translate(29.39,624.10) rotate(5.1 0 20) skewX(-2.5) scale(0.988,0.994) translate(-8.55,0)"><use href="#ms2"/></g><g transform="translate(46.55,624.10) rotate(3.4 0 20) skewX(3.5) scale(-0.960,0.971) translate(-8.55,0)"><use href="#ms1"/></g><g transform="translate(64.30,624.10) rotate(-5.5 0 20) skewX(-3.7) scale(1.002,0.985) translate(-8.55,0)"><use href="#ms2"/></g><g transform="translate(80.89,624.10) rotate(4.5 0 20) skewX(0.8) scale(1.015,0.975) translate(-8.55,0)"><use href="#ms2"/></g><g transform="translate(98.28,624.10) rotate(-0.3 0 20) skewX(1.2) scale(1.047,0.968) translate(-8.55,0)"><use href="#ms1"/></g><g transform="translate(115.24,624.10) rotate(3.5 0 20) skewX(-3.4) scale(0.955,1.015) translate(-8.55,0)"><use href="#ms0"/></g><g transform="translate(132.12,624.10) rotate(0.4 0 20) skewX(3.8) scale(0.936,0.977) translate(-8.55,0)"><use href="#ms1"/></g><g transform="translate(149.29,624.10) rotate(2.7 0 20) skewX(0.7) scale(1.048,0.999) translate(-8.55,0)"><use href="#ms0"/></g></g>
<clipPath id="cp4"><rect x="166.1" y="623.7" width="137.04" height="41.1"/></clipPath><g clip-path="url(#cp4)"><g transform="translate(174.74,624.10) rotate(-2.6 0 20) skewX(-3.7) scale(0.947,0.981) translate(-8.55,0)"><use href="#ms1"/></g><g transform="translate(191.76,624.10) rotate(-5.1 0 20) skewX(-3.4) scale(-0.901,0.979) translate(-8.55,0)"><use href="#ms2"/></g><g transform="translate(209.30,624.10) rotate(3.3 0 20) skewX(-3.0) scale(-0.898,1.016) translate(-8.55,0)"><use href="#ms1"/></g><g transform="translate(226.41,624.10) rotate(-5.9 0 20) skewX(2.9) scale(0.903,0.988) translate(-8.55,0)"><use href="#ms1"/></g><g transform="translate(243.27,624.10) rotate(-1.6 0 20) skewX(0.7) scale(0.959,0.997) translate(-8.55,0)"><use href="#ms0"/></g><g transform="translate(260.23,624.10) rotate(5.3 0 20) skewX(1.8) scale(-0.966,1.020) translate(-8.55,0)"><use href="#ms1"/></g><g transform="translate(277.29,624.10) rotate(0.3 0 20) skewX(0.1) scale(0.946,0.992) translate(-8.55,0)"><use href="#ms1"/></g><g transform="translate(294.70,624.10) rotate(-5.4 0 20) skewX(2.2) scale(-0.895,1.017) translate(-8.55,0)"><use href="#ms1"/></g></g>
<clipPath id="cp5"><rect x="21.1" y="686.4" width="137.04" height="41.1"/></clipPath><g clip-path="url(#cp5)"><g transform="translate(29.68,686.80) rotate(-5.0 0 20) skewX(0.9) scale(-1.162,0.982) translate(-8.55,0)"><use href="#ms2"/></g><g transform="translate(46.60,686.80) rotate(-3.6 0 20) skewX(-0.8) scale(-1.167,0.990) translate(-8.55,0)"><use href="#ms0"/></g><g transform="translate(63.63,686.80) rotate(1.2 0 20) skewX(-1.5) scale(-1.160,0.983) translate(-8.55,0)"><use href="#ms1"/></g><g transform="translate(80.88,686.80) rotate(3.0 0 20) skewX(3.6) scale(1.154,1.011) translate(-8.55,0)"><use href="#ms0"/></g><g transform="translate(98.29,686.80) rotate(-4.0 0 20) skewX(-0.7) scale(-1.102,0.977) translate(-8.55,0)"><use href="#ms2"/></g><g transform="translate(114.97,686.80) rotate(6.7 0 20) skewX(-0.4) scale(1.084,1.010) translate(-8.55,0)"><use href="#ms1"/></g><g transform="translate(132.29,686.80) rotate(2.9 0 20) skewX(0.6) scale(1.159,0.962) translate(-8.55,0)"><use href="#ms2"/></g><g transform="translate(149.36,686.80) rotate(-6.7 0 20) skewX(2.6) scale(1.060,0.987) translate(-8.55,0)"><use href="#ms0"/></g></g>
<clipPath id="cp6"><rect x="166.1" y="686.4" width="137.04" height="41.1"/></clipPath><g clip-path="url(#cp6)"><g transform="translate(174.78,686.80) rotate(-5.5 0 20) skewX(0.3) scale(-1.153,0.967) translate(-8.55,0)"><use href="#ms0"/></g><g transform="translate(191.40,686.80) rotate(-0.3 0 20) skewX(-2.6) scale(-1.113,0.972) translate(-8.55,0)"><use href="#ms2"/></g><g transform="translate(209.08,686.80) rotate(-3.2 0 20) skewX(-1.2) scale(1.117,0.971) translate(-8.55,0)"><use href="#ms1"/></g><g transform="translate(226.37,686.80) rotate(-3.9 0 20) skewX(-0.7) scale(-1.135,1.002) translate(-8.55,0)"><use href="#ms0"/></g><g transform="translate(243.23,686.80) rotate(5.4 0 20) skewX(-3.9) scale(-1.082,0.972) translate(-8.55,0)"><use href="#ms1"/></g><g transform="translate(260.55,686.80) rotate(-5.6 0 20) skewX(2.9) scale(1.066,1.019) translate(-8.55,0)"><use href="#ms0"/></g><g transform="translate(277.83,686.80) rotate(-5.8 0 20) skewX(-1.5) scale(-1.055,0.983) translate(-8.55,0)"><use href="#ms1"/></g><g transform="translate(294.53,686.80) rotate(-2.1 0 20) skewX(-3.3) scale(-1.143,1.011) translate(-8.55,0)"><use href="#ms1"/></g></g>
<clipPath id="cp7"><rect x="21.1" y="727.45" width="137.04" height="41.1"/></clipPath><g clip-path="url(#cp7)"><g transform="translate(29.90,727.85) rotate(4.3 0 20) skewX(-3.5) scale(1.107,0.962) translate(-8.55,0)"><use href="#ms2"/></g><g transform="translate(46.81,727.85) rotate(-5.0 0 20) skewX(-2.8) scale(-1.087,1.007) translate(-8.55,0)"><use href="#ms1"/></g><g transform="translate(63.97,727.85) rotate(3.6 0 20) skewX(-0.5) scale(1.119,1.001) translate(-8.55,0)"><use href="#ms2"/></g><g transform="translate(81.42,727.85) rotate(-3.4 0 20) skewX(1.4) scale(1.111,1.014) translate(-8.55,0)"><use href="#ms1"/></g><g transform="translate(97.95,727.85) rotate(0.3 0 20) skewX(0.6) scale(1.156,1.018) translate(-8.55,0)"><use href="#ms2"/></g><g transform="translate(115.65,727.85) rotate(0.5 0 20) skewX(-3.6) scale(1.042,0.983) translate(-8.55,0)"><use href="#ms1"/></g><g transform="translate(132.78,727.85) rotate(6.0 0 20) skewX(-0.3) scale(-1.054,0.970) translate(-8.55,0)"><use href="#ms1"/></g><g transform="translate(149.92,727.85) rotate(-2.2 0 20) skewX(3.2) scale(-1.075,0.990) translate(-8.55,0)"><use href="#ms2"/></g></g>
<clipPath id="cp8"><rect x="166.1" y="727.45" width="137.04" height="41.1"/></clipPath><g clip-path="url(#cp8)"><g transform="translate(174.37,727.85) rotate(1.7 0 20) skewX(3.4) scale(1.065,0.971) translate(-8.55,0)"><use href="#ms0"/></g><g transform="translate(191.68,727.85) rotate(2.6 0 20) skewX(-1.4) scale(-1.049,0.974) translate(-8.55,0)"><use href="#ms0"/></g><g transform="translate(209.10,727.85) rotate(4.9 0 20) skewX(1.0) scale(-1.089,0.995) translate(-8.55,0)"><use href="#ms0"/></g><g transform="translate(225.82,727.85) rotate(0.4 0 20) skewX(-2.7) scale(1.073,0.985) translate(-8.55,0)"><use href="#ms2"/></g><g transform="translate(243.52,727.85) rotate(1.2 0 20) skewX(-2.9) scale(-1.052,0.993) translate(-8.55,0)"><use href="#ms0"/></g><g transform="translate(260.71,727.85) rotate(5.9 0 20) skewX(-2.3) scale(1.065,0.979) translate(-8.55,0)"><use href="#ms0"/></g><g transform="translate(277.39,727.85) rotate(-5.8 0 20) skewX(-0.9) scale(-1.140,0.968) translate(-8.55,0)"><use href="#ms2"/></g><g transform="translate(294.19,727.85) rotate(-1.4 0 20) skewX(1.5) scale(1.127,0.968) translate(-8.55,0)"><use href="#ms2"/></g></g>
<clipPath id="cp9"><rect x="21.1" y="768.5" width="137.04" height="41.1"/></clipPath><g clip-path="url(#cp9)"><g transform="translate(29.67,768.90) rotate(6.6 0 20) skewX(-3.1) scale(-1.133,1.015) translate(-8.55,0)"><use href="#ms2"/></g><g transform="translate(46.41,768.90) rotate(4.2 0 20) skewX(-0.1) scale(-1.176,1.010) translate(-8.55,0)"><use href="#ms0"/></g><g transform="translate(63.75,768.90) rotate(-4.6 0 20) skewX(-2.7) scale(1.067,0.967) translate(-8.55,0)"><use href="#ms2"/></g><g transform="translate(80.92,768.90) rotate(-0.5 0 20) skewX(2.1) scale(-1.050,1.017) translate(-8.55,0)"><use href="#ms1"/></g><g transform="translate(98.35,768.90) rotate(1.4 0 20) skewX(-3.9) scale(1.111,0.986) translate(-8.55,0)"><use href="#ms0"/></g><g transform="translate(115.40,768.90) rotate(-1.8 0 20) skewX(3.4) scale(1.096,0.982) translate(-8.55,0)"><use href="#ms2"/></g><g transform="translate(132.75,768.90) rotate(-5.8 0 20) skewX(2.7) scale(-1.148,0.979) translate(-8.55,0)"><use href="#ms2"/></g><g transform="translate(149.38,768.90) rotate(6.8 0 20) skewX(2.4) scale(1.122,0.990) translate(-8.55,0)"><use href="#ms2"/></g></g>
<clipPath id="cp10"><rect x="166.1" y="768.5" width="137.04" height="41.1"/></clipPath><g clip-path="url(#cp10)"><g transform="translate(174.53,768.90) rotate(6.1 0 20) skewX(-2.9) scale(-1.121,0.970) translate(-8.55,0)"><use href="#ms1"/></g><g transform="translate(191.67,768.90) rotate(3.1 0 20) skewX(-3.4) scale(-1.124,0.984) translate(-8.55,0)"><use href="#ms0"/></g><g transform="translate(208.71,768.90) rotate(1.9 0 20) skewX(1.0) scale(-1.024,0.981) translate(-8.55,0)"><use href="#ms1"/></g><g transform="translate(226.07,768.90) rotate(-4.5 0 20) skewX(-3.4) scale(-1.052,0.984) translate(-8.55,0)"><use href="#ms2"/></g><g transform="translate(242.88,768.90) rotate(-1.5 0 20) skewX(0.6) scale(1.051,0.967) translate(-8.55,0)"><use href="#ms2"/></g><g transform="translate(260.43,768.90) rotate(0.1 0 20) skewX(2.1) scale(1.054,0.987) translate(-8.55,0)"><use href="#ms0"/></g><g transform="translate(277.38,768.90) rotate(-2.2 0 20) skewX(0.3) scale(1.057,0.977) translate(-8.55,0)"><use href="#ms2"/></g><g transform="translate(294.94,768.90) rotate(0.7 0 20) skewX(1.3) scale(-1.082,0.999) translate(-8.55,0)"><use href="#ms0"/></g></g>
<clipPath id="cp11"><rect x="21.1" y="809.55" width="85.65" height="41.1"/></clipPath><g clip-path="url(#cp11)"><g transform="translate(29.74,809.95) rotate(5.0 0 20) skewX(0.3) scale(-1.093,1.018) translate(-8.55,0)"><use href="#ms1"/></g><g transform="translate(46.62,809.95) rotate(1.4 0 20) skewX(-1.1) scale(-1.098,0.992) translate(-8.55,0)"><use href="#ms2"/></g><g transform="translate(64.14,809.95) rotate(3.5 0 20) skewX(-3.8) scale(1.167,1.000) translate(-8.55,0)"><use href="#ms2"/></g><g transform="translate(81.25,809.95) rotate(-1.5 0 20) skewX(3.2) scale(1.063,1.005) translate(-8.55,0)"><use href="#ms2"/></g><g transform="translate(98.13,809.95) rotate(-6.0 0 20) skewX(3.2) scale(-1.174,1.017) translate(-8.55,0)"><use href="#ms1"/></g></g>
<clipPath id="cp12"><rect x="166.1" y="809.55" width="137.04" height="41.1"/></clipPath><g clip-path="url(#cp12)"><g transform="translate(174.84,809.95) rotate(0.3 0 20) skewX(3.5) scale(-1.151,0.975) translate(-8.55,0)"><use href="#ms0"/></g><g transform="translate(191.89,809.95) rotate(1.5 0 20) skewX(-3.1) scale(-1.152,1.009) translate(-8.55,0)"><use href="#ms0"/></g><g transform="translate(208.88,809.95) rotate(0.4 0 20) skewX(-3.0) scale(-1.050,0.963) translate(-8.55,0)"><use href="#ms1"/></g><g transform="translate(226.25,809.95) rotate(2.5 0 20) skewX(-1.1) scale(1.102,0.998) translate(-8.55,0)"><use href="#ms1"/></g><g transform="translate(243.41,809.95) rotate(-5.4 0 20) skewX(3.1) scale(-1.120,0.974) translate(-8.55,0)"><use href="#ms1"/></g><g transform="translate(260.42,809.95) rotate(0.9 0 20) skewX(0.7) scale(1.059,1.001) translate(-8.55,0)"><use href="#ms0"/></g><g transform="translate(277.59,809.95) rotate(2.1 0 20) skewX(-2.4) scale(1.149,0.990) translate(-8.55,0)"><use href="#ms0"/></g><g transform="translate(294.61,809.95) rotate(1.7 0 20) skewX(-3.2) scale(1.059,0.986) translate(-8.55,0)"><use href="#ms0"/></g></g>
</g>
<ellipse cx="30.86" cy="589.90" rx="2.95" ry="2.32" fill="#6416ff"/><ellipse cx="47.59" cy="589.00" rx="1.53" ry="0.85" fill="#6416ff"/><ellipse cx="98.39" cy="590.90" rx="2.83" ry="2.32" fill="#6416ff"/><ellipse cx="115.52" cy="590.70" rx="2.24" ry="1.83" fill="#6416ff"/><ellipse cx="132.64" cy="590.70" rx="2.24" ry="1.83" fill="#6416ff"/><ellipse cx="150.88" cy="591.20" rx="2.71" ry="2.44" fill="#6416ff"/>
<ellipse cx="29.16" cy="631.30" rx="3.78" ry="3.17" fill="#6416ff"/><ellipse cx="46.20" cy="633.90" rx="1.53" ry="1.22" fill="#6416ff"/><ellipse cx="63.32" cy="628.20" rx="2.60" ry="1.59" fill="#6416ff"/><ellipse cx="80.06" cy="629.90" rx="2.60" ry="1.83" fill="#6416ff"/><ellipse cx="96.98" cy="631.70" rx="3.30" ry="2.68" fill="#6416ff"/><ellipse cx="114.31" cy="631.70" rx="2.83" ry="2.32" fill="#6416ff"/><ellipse cx="133.44" cy="632.70" rx="3.54" ry="2.81" fill="#6416ff"/><ellipse cx="150.17" cy="631.90" rx="2.12" ry="1.59" fill="#6416ff"/>
<ellipse cx="174.66" cy="588.50" rx="1.77" ry="1.46" fill="#6416ff"/><ellipse cx="195.29" cy="589.70" rx="1.18" ry="0.73" fill="#6416ff"/><ellipse cx="211.92" cy="591.20" rx="1.18" ry="0.85" fill="#6416ff"/><ellipse cx="227.06" cy="591.50" rx="2.83" ry="2.32" fill="#6416ff"/><ellipse cx="261.81" cy="590.20" rx="1.06" ry="0.85" fill="#6416ff"/><ellipse cx="278.25" cy="590.70" rx="1.42" ry="1.22" fill="#6416ff"/><ellipse cx="296.38" cy="589.70" rx="2.24" ry="1.71" fill="#6416ff"/>
<ellipse cx="174.66" cy="631.70" rx="1.89" ry="1.59" fill="#6416ff"/><ellipse cx="192.59" cy="631.70" rx="1.65" ry="1.10" fill="#6416ff"/><ellipse cx="213.92" cy="630.70" rx="1.89" ry="1.46" fill="#6416ff"/><ellipse cx="227.06" cy="633.20" rx="3.07" ry="2.32" fill="#6416ff"/><ellipse cx="242.69" cy="632.50" rx="3.30" ry="2.44" fill="#6416ff"/><ellipse cx="260.31" cy="632.70" rx="2.83" ry="2.20" fill="#6416ff"/><ellipse cx="276.94" cy="631.50" rx="2.36" ry="1.59" fill="#6416ff"/><ellipse cx="295.57" cy="632.70" rx="2.83" ry="1.95" fill="#6416ff"/>
<ellipse cx="30.86" cy="693.40" rx="3.0" ry="3.0" fill="url(#h1)"/><ellipse cx="47.80" cy="693.90" rx="3.07" ry="2.44" fill="#6416ff"/><ellipse cx="65.12" cy="694.40" rx="3.30" ry="2.44" fill="#6416ff"/><ellipse cx="80.86" cy="695.40" rx="3.30" ry="2.44" fill="#6416ff"/><ellipse cx="98.48" cy="694.90" rx="3.4" ry="3.0" fill="url(#h1)"/><ellipse cx="116.11" cy="694.90" rx="3.54" ry="2.68" fill="#6416ff"/><ellipse cx="133.25" cy="693.90" rx="3.6" ry="3.4" fill="url(#h1)"/><ellipse cx="150.77" cy="696.20" rx="2.12" ry="1.71" fill="#6416ff"/>
<ellipse cx="29.16" cy="737.45" rx="4.3" ry="4.4" fill="url(#h2)"/><ellipse cx="47.30" cy="735.45" rx="3.78" ry="3.17" fill="#6416ff"/><ellipse cx="63.42" cy="735.95" rx="3.8" ry="3.0" fill="url(#h1)"/><ellipse cx="81.56" cy="736.95" rx="3.4" ry="3.0" fill="url(#h1)"/><ellipse cx="99.69" cy="737.45" rx="4.0" ry="3.6" fill="url(#h1)"/><ellipse cx="115.81" cy="736.95" rx="4.0" ry="3.8" fill="url(#h2)"/><ellipse cx="133.25" cy="736.45" rx="4.3" ry="4.2" fill="url(#h2)"/><ellipse cx="151.07" cy="736.95" rx="4.0" ry="3.0" fill="url(#h1)"/>
<ellipse cx="28.66" cy="777.00" rx="4.4" ry="3.6" fill="url(#h2)"/><ellipse cx="46.80" cy="776.50" rx="3.8" ry="3.2" fill="url(#h1)"/><ellipse cx="63.42" cy="777.00" rx="4.2" ry="3.8" fill="url(#h2)"/><ellipse cx="81.06" cy="777.00" rx="4.0" ry="3.6" fill="url(#h2)"/><ellipse cx="98.69" cy="777.00" rx="4.4" ry="4.2" fill="url(#h2)"/><ellipse cx="116.31" cy="777.00" rx="4.6" ry="4.6" fill="url(#h3)"/><ellipse cx="132.94" cy="776.50" rx="5.0" ry="5.0" fill="url(#h3)"/><ellipse cx="151.07" cy="778.00" rx="4.4" ry="4.6" fill="url(#h3)"/>
<ellipse cx="29.16" cy="818.55" rx="6.0" ry="6.4" fill="url(#h3)"/><ellipse cx="46.30" cy="818.05" rx="4.4" ry="4.4" fill="url(#h3)"/><ellipse cx="64.92" cy="818.05" rx="5.2" ry="5.4" fill="url(#h3)"/><ellipse cx="81.86" cy="818.05" rx="4.8" ry="4.6" fill="url(#h3)"/><ellipse cx="98.39" cy="819.05" rx="4.4" ry="4.6" fill="url(#h3)"/>
<ellipse cx="209.42" cy="695.90" rx="0.59" ry="0.61" fill="#6416ff"/><ellipse cx="227.86" cy="695.40" rx="3.54" ry="3.17" fill="#6416ff"/><ellipse cx="260.62" cy="694.60" rx="1.65" ry="1.22" fill="#6416ff"/><ellipse cx="278.94" cy="705.90" rx="0.59" ry="0.61" fill="#6416ff"/><ellipse cx="295.88" cy="693.40" rx="2.36" ry="1.46" fill="#6416ff"/>
<ellipse cx="174.16" cy="734.95" rx="1.89" ry="1.46" fill="#6416ff"/><ellipse cx="193.29" cy="735.45" rx="1.77" ry="1.46" fill="#6416ff"/><ellipse cx="261.12" cy="735.95" rx="2.36" ry="1.83" fill="#6416ff"/><ellipse cx="280.94" cy="734.65" rx="1.89" ry="1.59" fill="#6416ff"/><ellipse cx="297.57" cy="735.95" rx="0.94" ry="0.98" fill="#6416ff"/>
<ellipse cx="175.16" cy="776.00" rx="2.01" ry="1.83" fill="#6416ff"/><ellipse cx="192.79" cy="776.00" rx="3.30" ry="2.68" fill="#6416ff"/><ellipse cx="211.92" cy="776.00" rx="2.01" ry="1.71" fill="#6416ff"/><ellipse cx="228.56" cy="777.00" rx="4.2" ry="4.0" fill="url(#h1)"/><ellipse cx="244.69" cy="777.50" rx="2.60" ry="2.20" fill="#6416ff"/><ellipse cx="261.51" cy="776.00" rx="3.54" ry="3.05" fill="#6416ff"/><ellipse cx="277.94" cy="776.50" rx="3.19" ry="2.68" fill="#6416ff"/>
<ellipse cx="174.66" cy="818.35" rx="2.48" ry="2.32" fill="#6416ff"/><ellipse cx="191.29" cy="817.05" rx="3.30" ry="2.56" fill="#6416ff"/><ellipse cx="211.42" cy="816.05" rx="3.07" ry="2.56" fill="#6416ff"/><ellipse cx="227.06" cy="818.05" rx="4.0" ry="3.6" fill="url(#h1)"/><ellipse cx="242.69" cy="818.05" rx="3.54" ry="2.68" fill="#6416ff"/><ellipse cx="261.12" cy="816.55" rx="3.42" ry="2.56" fill="#6416ff"/><ellipse cx="278.75" cy="817.05" rx="2.60" ry="2.20" fill="#6416ff"/><ellipse cx="295.07" cy="817.05" rx="2.36" ry="1.83" fill="#6416ff"/>
<rect x="309.9" y="566.6" width="9.5" height="231.8" fill="url(#cbar)" stroke="#333" stroke-width="0.5"/>
<line x1="319.40" y1="787.86" x2="323.40" y2="787.86" stroke="#222" stroke-width="0.95"/>
<line x1="319.40" y1="776.22" x2="323.40" y2="776.22" stroke="#222" stroke-width="0.95"/>
<line x1="319.40" y1="764.58" x2="323.40" y2="764.58" stroke="#222" stroke-width="0.95"/>
<line x1="319.40" y1="752.94" x2="323.40" y2="752.94" stroke="#222" stroke-width="0.95"/>
<line x1="319.40" y1="741.30" x2="326.40" y2="741.30" stroke="#222" stroke-width="0.95"/>
<text x="325.9" y="740.8" font-size="8.3" fill="#151515" stroke="#151515" stroke-width="0.18">0.5</text>
<line x1="319.40" y1="729.66" x2="323.40" y2="729.66" stroke="#222" stroke-width="0.95"/>
<line x1="319.40" y1="718.02" x2="323.40" y2="718.02" stroke="#222" stroke-width="0.95"/>
<line x1="319.40" y1="706.38" x2="323.40" y2="706.38" stroke="#222" stroke-width="0.95"/>
<line x1="319.40" y1="694.74" x2="323.40" y2="694.74" stroke="#222" stroke-width="0.95"/>
<line x1="319.40" y1="683.10" x2="326.40" y2="683.10" stroke="#222" stroke-width="0.95"/>
<text x="325.9" y="682.6" font-size="8.3" fill="#151515" stroke="#151515" stroke-width="0.18">1.0</text>
<line x1="319.40" y1="671.46" x2="323.40" y2="671.46" stroke="#222" stroke-width="0.95"/>
<line x1="319.40" y1="659.82" x2="323.40" y2="659.82" stroke="#222" stroke-width="0.95"/>
<line x1="319.40" y1="648.18" x2="323.40" y2="648.18" stroke="#222" stroke-width="0.95"/>
<line x1="319.40" y1="636.54" x2="323.40" y2="636.54" stroke="#222" stroke-width="0.95"/>
<line x1="319.40" y1="624.90" x2="326.40" y2="624.90" stroke="#222" stroke-width="0.95"/>
<text x="325.9" y="624.4" font-size="8.3" fill="#151515" stroke="#151515" stroke-width="0.18">1.5</text>
<line x1="319.40" y1="613.26" x2="323.40" y2="613.26" stroke="#222" stroke-width="0.95"/>
<line x1="319.40" y1="601.62" x2="323.40" y2="601.62" stroke="#222" stroke-width="0.95"/>
<line x1="319.40" y1="589.98" x2="323.40" y2="589.98" stroke="#222" stroke-width="0.95"/>
<line x1="319.40" y1="578.34" x2="323.40" y2="578.34" stroke="#222" stroke-width="0.95"/>
<line x1="319.40" y1="566.70" x2="326.40" y2="566.70" stroke="#222" stroke-width="0.95"/>
<text x="325.9" y="566.2" font-size="8.3" fill="#151515" stroke="#151515" stroke-width="0.18">2.0</text>
<text x="306.4" y="805.0" font-size="8.45" fill="#151515" stroke="#151515" stroke-width="0.18">Avg Radiance</text>
<text x="304.4" y="815.5" font-size="8.45" fill="#151515" stroke="#151515" stroke-width="0.18" textLength="64.5" lengthAdjust="spacingAndGlyphs">[p/s/cm<tspan font-size="4.6" dy="-2.8">2</tspan><tspan dy="2.8">/sr](x10</tspan><tspan font-size="4.6" dy="-2.8">6</tspan><tspan dy="2.8">)</tspan></text>
<rect x="307.3" y="819.8" width="52" height="30.8" fill="#fff" stroke="#000" stroke-width="1.3"/>
<text x="333.4" y="829.4" font-size="8.4" text-anchor="middle" fill="#151515" stroke="#151515" stroke-width="0.18">Color Scale</text>
<text x="333.3" y="838.0" font-size="7.7" text-anchor="middle" fill="#151515" stroke="#151515" stroke-width="0.18" textLength="39.4" lengthAdjust="spacingAndGlyphs">Min = 1.00e4</text>
<text x="333.5" y="847.7" font-size="7.7" text-anchor="middle" fill="#151515" stroke="#151515" stroke-width="0.18" textLength="41.2" lengthAdjust="spacingAndGlyphs">Max = 2.00e6</text>
</g>
<g id="panel-g">
<text x="370.2" y="678.0" font-size="16.0" font-weight="bold" fill="#151515">g</text>
<line x1="409.40" y1="679.40" x2="409.40" y2="775.60" stroke="#000" stroke-width="1.3"/>
<line x1="409.40" y1="785.60" x2="409.40" y2="828.15" stroke="#000" stroke-width="1.3"/>
<line x1="408.75" y1="827.50" x2="594.85" y2="827.50" stroke="#000" stroke-width="1.3"/>
<line x1="405.90" y1="780.00" x2="413.20" y2="775.30" stroke="#000" stroke-width="1.3"/>
<line x1="405.90" y1="788.60" x2="413.20" y2="783.90" stroke="#000" stroke-width="1.3"/>
<line x1="404.40" y1="759.90" x2="409.40" y2="759.90" stroke="#000" stroke-width="1.0"/>
<text x="404.2" y="762.9" font-size="8.2" text-anchor="end" fill="#151515" stroke="#151515" stroke-width="0.18">25</text>
<line x1="404.40" y1="739.90" x2="409.40" y2="739.90" stroke="#000" stroke-width="1.0"/>
<text x="404.2" y="742.9" font-size="8.2" text-anchor="end" fill="#151515" stroke="#151515" stroke-width="0.18">50</text>
<line x1="404.40" y1="719.90" x2="409.40" y2="719.90" stroke="#000" stroke-width="1.0"/>
<text x="404.2" y="722.9" font-size="8.2" text-anchor="end" fill="#151515" stroke="#151515" stroke-width="0.18">75</text>
<line x1="404.40" y1="699.90" x2="409.40" y2="699.90" stroke="#000" stroke-width="1.0"/>
<text x="404.2" y="702.9" font-size="8.2" text-anchor="end" fill="#151515" stroke="#151515" stroke-width="0.18">100</text>
<line x1="404.40" y1="679.90" x2="409.40" y2="679.90" stroke="#000" stroke-width="1.0"/>
<text x="404.2" y="682.9" font-size="8.2" text-anchor="end" fill="#151515" stroke="#151515" stroke-width="0.18">125</text>
<line x1="404.40" y1="819.20" x2="409.40" y2="819.20" stroke="#000" stroke-width="1.0"/>
<text x="404.2" y="822.2" font-size="8.2" text-anchor="end" fill="#151515" stroke="#151515" stroke-width="0.18">0</text>
<line x1="404.40" y1="802.40" x2="409.40" y2="802.40" stroke="#000" stroke-width="1.0"/>
<text x="404.2" y="805.4000000000001" font-size="8.2" text-anchor="end" fill="#151515" stroke="#151515" stroke-width="0.18">2</text>
<line x1="404.40" y1="785.60" x2="409.40" y2="785.60" stroke="#000" stroke-width="1.0"/>
<text x="404.2" y="788.6" font-size="8.2" text-anchor="end" fill="#151515" stroke="#151515" stroke-width="0.18">4</text>
<line x1="409.40" y1="827.50" x2="409.40" y2="832.50" stroke="#000" stroke-width="1.0"/>
<text x="409.09999999999997" y="838.8" font-size="8.2" text-anchor="middle" fill="#151515" stroke="#151515" stroke-width="0.18">0</text>
<line x1="432.50" y1="827.50" x2="432.50" y2="830.50" stroke="#000" stroke-width="1.0"/>
<line x1="455.60" y1="827.50" x2="455.60" y2="832.50" stroke="#000" stroke-width="1.0"/>
<text x="455.29999999999995" y="838.8" font-size="8.2" text-anchor="middle" fill="#151515" stroke="#151515" stroke-width="0.18">10</text>
<line x1="478.70" y1="827.50" x2="478.70" y2="830.50" stroke="#000" stroke-width="1.0"/>
<line x1="501.80" y1="827.50" x2="501.80" y2="832.50" stroke="#000" stroke-width="1.0"/>
<text x="501.49999999999994" y="838.8" font-size="8.2" text-anchor="middle" fill="#151515" stroke="#151515" stroke-width="0.18">20</text>
<line x1="524.90" y1="827.50" x2="524.90" y2="830.50" stroke="#000" stroke-width="1.0"/>
<line x1="548.00" y1="827.50" x2="548.00" y2="832.50" stroke="#000" stroke-width="1.0"/>
<text x="547.7" y="838.8" font-size="8.2" text-anchor="middle" fill="#151515" stroke="#151515" stroke-width="0.18">30</text>
<line x1="571.10" y1="827.50" x2="571.10" y2="830.50" stroke="#000" stroke-width="1.0"/>
<line x1="594.20" y1="827.50" x2="594.20" y2="832.50" stroke="#000" stroke-width="1.0"/>
<text x="593.9000000000001" y="838.8" font-size="8.2" text-anchor="middle" fill="#151515" stroke="#151515" stroke-width="0.18">40</text>
<text x="498.4" y="850.6" font-size="8.3" font-weight="bold" text-anchor="middle" fill="#151515">Time (Days)</text>
<text x="387.8" y="756.0" font-size="8.45" text-anchor="middle" transform="rotate(-90 387.8 756.0)" fill="#151515" stroke="#151515" stroke-width="0.18">Avg Radiance[p/s/cm<tspan font-size="4.6" dy="-3">2</tspan><tspan dy="3">/sr] (10</tspan><tspan font-size="4.6" dy="-3">4</tspan><tspan dy="3">)</tspan></text>
<polyline points="441.74,815.84 474.08,814.16 492.56,815.84 511.04,816.93 543.38,804.92 575.72,793.58" fill="none" stroke="#ff0d0d" stroke-width="1.4"/>
<circle cx="441.74" cy="815.84" r="3.1" fill="#ff0d0d"/>
<line x1="474.08" y1="811.47" x2="474.08" y2="816.85" stroke="#ff0d0d" stroke-width="1.3"/><line x1="470.78" y1="811.47" x2="477.38" y2="811.47" stroke="#ff0d0d" stroke-width="1.3"/><line x1="470.78" y1="816.85" x2="477.38" y2="816.85" stroke="#ff0d0d" stroke-width="1.3"/>
<circle cx="474.08" cy="814.16" r="3.1" fill="#ff0d0d"/>
<circle cx="492.56" cy="815.84" r="3.1" fill="#ff0d0d"/>
<circle cx="511.04" cy="816.93" r="3.1" fill="#ff0d0d"/>
<line x1="543.38" y1="796.94" x2="543.38" y2="812.48" stroke="#ff0d0d" stroke-width="1.3"/><line x1="540.08" y1="796.94" x2="546.68" y2="796.94" stroke="#ff0d0d" stroke-width="1.3"/><line x1="540.08" y1="812.48" x2="546.68" y2="812.48" stroke="#ff0d0d" stroke-width="1.3"/>
<circle cx="543.38" cy="804.92" r="3.1" fill="#ff0d0d"/>
<line x1="575.72" y1="786.61" x2="575.72" y2="800.72" stroke="#ff0d0d" stroke-width="1.3"/><line x1="572.42" y1="786.61" x2="579.02" y2="786.61" stroke="#ff0d0d" stroke-width="1.3"/><line x1="572.42" y1="800.72" x2="579.02" y2="800.72" stroke="#ff0d0d" stroke-width="1.3"/>
<circle cx="575.72" cy="793.58" r="3.1" fill="#ff0d0d"/>
<polyline points="441.74,814.66 474.08,806.43 486.9,785.6" fill="none" stroke="#000" stroke-width="1.4"/>
<polyline points="492.56,774.30 511.04,772.78 543.38,750.06 575.72,712.22" fill="none" stroke="#000" stroke-width="1.4"/>
<line x1="474.08" y1="801.14" x2="474.08" y2="811.64" stroke="#000" stroke-width="1.3"/><line x1="470.78" y1="801.14" x2="477.38" y2="801.14" stroke="#000" stroke-width="1.3"/><line x1="470.78" y1="811.64" x2="477.38" y2="811.64" stroke="#000" stroke-width="1.3"/>
<line x1="492.56" y1="773.02" x2="492.56" y2="775.58" stroke="#000" stroke-width="1.3"/><line x1="489.26" y1="773.02" x2="495.86" y2="773.02" stroke="#000" stroke-width="1.3"/><line x1="489.26" y1="775.58" x2="495.86" y2="775.58" stroke="#000" stroke-width="1.3"/>
<line x1="511.04" y1="771.50" x2="511.04" y2="774.06" stroke="#000" stroke-width="1.3"/><line x1="507.74" y1="771.50" x2="514.34" y2="771.50" stroke="#000" stroke-width="1.3"/><line x1="507.74" y1="774.06" x2="514.34" y2="774.06" stroke="#000" stroke-width="1.3"/>
<line x1="543.38" y1="738.38" x2="543.38" y2="761.66" stroke="#000" stroke-width="1.3"/><line x1="540.08" y1="738.38" x2="546.68" y2="738.38" stroke="#000" stroke-width="1.3"/><line x1="540.08" y1="761.66" x2="546.68" y2="761.66" stroke="#000" stroke-width="1.3"/>
<line x1="575.72" y1="687.10" x2="575.72" y2="736.62" stroke="#000" stroke-width="1.3"/><line x1="572.42" y1="687.10" x2="579.02" y2="687.10" stroke="#000" stroke-width="1.3"/><line x1="572.42" y1="736.62" x2="579.02" y2="736.62" stroke="#000" stroke-width="1.3"/>
<circle cx="441.74" cy="814.66" r="3.1" fill="#000"/>
<circle cx="474.08" cy="806.43" r="3.1" fill="#000"/>
<circle cx="492.56" cy="774.30" r="3.1" fill="#000"/>
<circle cx="511.04" cy="772.78" r="3.1" fill="#000"/>
<circle cx="543.38" cy="750.06" r="3.1" fill="#000"/>
<circle cx="575.72" cy="712.22" r="3.1" fill="#000"/>
<text x="575.72" y="686.3" font-size="8.0" text-anchor="middle" fill="#151515" stroke="#151515" stroke-width="0.18">****</text>
<text x="543.38" y="736.5" font-size="8.0" text-anchor="middle" fill="#151515" stroke="#151515" stroke-width="0.18">**</text>
<line x1="598.90" y1="745.90" x2="611.40" y2="745.90" stroke="#000" stroke-width="1.4"/>
<text x="616.7" y="748.4" font-size="8.45" fill="#151515" stroke="#151515" stroke-width="0.18">NT</text>
<line x1="598.90" y1="766.70" x2="611.40" y2="766.70" stroke="#ff0d0d" stroke-width="1.4"/>
<text x="616.7" y="765.5" font-size="8.45" fill="#151515" stroke="#151515" stroke-width="0.18">IL-13Rα2 UCAR-T</text>
<text x="649.4" y="773.6" font-size="8.45" text-anchor="middle" fill="#151515" stroke="#151515" stroke-width="0.18">(MT026)</text>
</g>
</svg>
</body></html>
